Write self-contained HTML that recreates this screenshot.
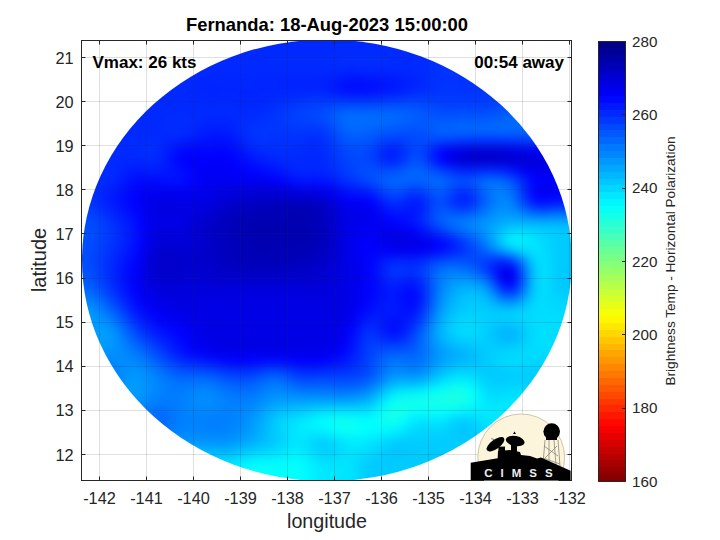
<!DOCTYPE html>
<html><head><meta charset="utf-8"><style>
html,body{margin:0;padding:0;background:#fff;width:720px;height:540px;overflow:hidden;position:relative;font-family:"Liberation Sans",sans-serif;color:#262626}
.t{position:absolute;white-space:nowrap;line-height:20px}
.xt{position:absolute;top:487.5px;width:60px;text-align:center;font-size:16.3px;line-height:20px;color:#262626}
.yt{position:absolute;left:0;width:73.5px;text-align:right;font-size:16.3px;line-height:20px;color:#262626}
.ct{position:absolute;left:632px;font-size:15.2px;line-height:20px;color:#262626}
</style></head><body>
<svg width="720" height="540" style="position:absolute;left:0;top:0">
<defs>
<clipPath id="ax"><rect x="81.5" y="40.5" width="490.0" height="440.0"/></clipPath>
<clipPath id="el"><ellipse cx="326.9" cy="260.3" rx="244.9" ry="220.9"/></clipPath>
<filter id="bl" x="-10%" y="-10%" width="120%" height="120%" color-interpolation-filters="sRGB"><feGaussianBlur stdDeviation="5"/></filter>
</defs>
<g clip-path="url(#ax)"><g clip-path="url(#el)"><g filter="url(#bl)"><rect x="58" y="16" width="11" height="11" fill="#0029ff"/><rect x="68" y="16" width="11" height="11" fill="#0029ff"/><rect x="78" y="16" width="11" height="11" fill="#0029ff"/><rect x="88" y="16" width="11" height="11" fill="#0029ff"/><rect x="98" y="16" width="11" height="11" fill="#0029ff"/><rect x="108" y="16" width="11" height="11" fill="#0029ff"/><rect x="118" y="16" width="11" height="11" fill="#0029ff"/><rect x="128" y="16" width="11" height="11" fill="#0029ff"/><rect x="138" y="16" width="11" height="11" fill="#0029ff"/><rect x="148" y="16" width="11" height="11" fill="#0029ff"/><rect x="158" y="16" width="11" height="11" fill="#0029ff"/><rect x="168" y="16" width="11" height="11" fill="#0029ff"/><rect x="178" y="16" width="11" height="11" fill="#0029ff"/><rect x="188" y="16" width="11" height="11" fill="#0029ff"/><rect x="198" y="16" width="11" height="11" fill="#0029ff"/><rect x="208" y="16" width="11" height="11" fill="#0029ff"/><rect x="218" y="16" width="11" height="11" fill="#0029ff"/><rect x="228" y="16" width="11" height="11" fill="#0029ff"/><rect x="238" y="16" width="11" height="11" fill="#0029ff"/><rect x="248" y="16" width="11" height="11" fill="#0029ff"/><rect x="258" y="16" width="11" height="11" fill="#0029ff"/><rect x="268" y="16" width="11" height="11" fill="#0029ff"/><rect x="278" y="16" width="11" height="11" fill="#0029ff"/><rect x="288" y="16" width="11" height="11" fill="#0029ff"/><rect x="298" y="16" width="11" height="11" fill="#0029ff"/><rect x="308" y="16" width="11" height="11" fill="#0029ff"/><rect x="318" y="16" width="11" height="11" fill="#0029ff"/><rect x="328" y="16" width="11" height="11" fill="#0029ff"/><rect x="338" y="16" width="11" height="11" fill="#0029ff"/><rect x="348" y="16" width="11" height="11" fill="#0029ff"/><rect x="358" y="16" width="11" height="11" fill="#0029ff"/><rect x="368" y="16" width="11" height="11" fill="#0029ff"/><rect x="378" y="16" width="11" height="11" fill="#0029ff"/><rect x="388" y="16" width="11" height="11" fill="#0029ff"/><rect x="398" y="16" width="11" height="11" fill="#0029ff"/><rect x="408" y="16" width="11" height="11" fill="#0029ff"/><rect x="418" y="16" width="11" height="11" fill="#0029ff"/><rect x="428" y="16" width="11" height="11" fill="#0029ff"/><rect x="438" y="16" width="11" height="11" fill="#0029ff"/><rect x="448" y="16" width="11" height="11" fill="#0029ff"/><rect x="458" y="16" width="11" height="11" fill="#0029ff"/><rect x="468" y="16" width="11" height="11" fill="#0029ff"/><rect x="478" y="16" width="11" height="11" fill="#0029ff"/><rect x="488" y="16" width="11" height="11" fill="#0029ff"/><rect x="498" y="16" width="11" height="11" fill="#0029ff"/><rect x="508" y="16" width="11" height="11" fill="#0029ff"/><rect x="518" y="16" width="11" height="11" fill="#0029ff"/><rect x="528" y="16" width="11" height="11" fill="#0029ff"/><rect x="538" y="16" width="11" height="11" fill="#0029ff"/><rect x="548" y="16" width="11" height="11" fill="#0029ff"/><rect x="558" y="16" width="11" height="11" fill="#0029ff"/><rect x="568" y="16" width="11" height="11" fill="#0029ff"/><rect x="578" y="16" width="11" height="11" fill="#0029ff"/><rect x="588" y="16" width="11" height="11" fill="#0029ff"/><rect x="58" y="26" width="11" height="11" fill="#0029ff"/><rect x="68" y="26" width="11" height="11" fill="#0029ff"/><rect x="78" y="26" width="11" height="11" fill="#0029ff"/><rect x="88" y="26" width="11" height="11" fill="#0029ff"/><rect x="98" y="26" width="11" height="11" fill="#0029ff"/><rect x="108" y="26" width="11" height="11" fill="#0029ff"/><rect x="118" y="26" width="11" height="11" fill="#0029ff"/><rect x="128" y="26" width="11" height="11" fill="#0029ff"/><rect x="138" y="26" width="11" height="11" fill="#0029ff"/><rect x="148" y="26" width="11" height="11" fill="#0029ff"/><rect x="158" y="26" width="11" height="11" fill="#0029ff"/><rect x="168" y="26" width="11" height="11" fill="#0029ff"/><rect x="178" y="26" width="11" height="11" fill="#0029ff"/><rect x="188" y="26" width="11" height="11" fill="#0029ff"/><rect x="198" y="26" width="11" height="11" fill="#0029ff"/><rect x="208" y="26" width="11" height="11" fill="#0029ff"/><rect x="218" y="26" width="11" height="11" fill="#0029ff"/><rect x="228" y="26" width="11" height="11" fill="#0029ff"/><rect x="238" y="26" width="11" height="11" fill="#0029ff"/><rect x="248" y="26" width="11" height="11" fill="#0029ff"/><rect x="258" y="26" width="11" height="11" fill="#0029ff"/><rect x="268" y="26" width="11" height="11" fill="#0029ff"/><rect x="278" y="26" width="11" height="11" fill="#0029ff"/><rect x="288" y="26" width="11" height="11" fill="#0029ff"/><rect x="298" y="26" width="11" height="11" fill="#0029ff"/><rect x="308" y="26" width="11" height="11" fill="#0029ff"/><rect x="318" y="26" width="11" height="11" fill="#0029ff"/><rect x="328" y="26" width="11" height="11" fill="#0029ff"/><rect x="338" y="26" width="11" height="11" fill="#0029ff"/><rect x="348" y="26" width="11" height="11" fill="#0028ff"/><rect x="358" y="26" width="11" height="11" fill="#0028ff"/><rect x="368" y="26" width="11" height="11" fill="#0028ff"/><rect x="378" y="26" width="11" height="11" fill="#0029ff"/><rect x="388" y="26" width="11" height="11" fill="#0029ff"/><rect x="398" y="26" width="11" height="11" fill="#0029ff"/><rect x="408" y="26" width="11" height="11" fill="#0029ff"/><rect x="418" y="26" width="11" height="11" fill="#0029ff"/><rect x="428" y="26" width="11" height="11" fill="#0028ff"/><rect x="438" y="26" width="11" height="11" fill="#0028ff"/><rect x="448" y="26" width="11" height="11" fill="#0028ff"/><rect x="458" y="26" width="11" height="11" fill="#0028ff"/><rect x="468" y="26" width="11" height="11" fill="#0028ff"/><rect x="478" y="26" width="11" height="11" fill="#0028ff"/><rect x="488" y="26" width="11" height="11" fill="#0028ff"/><rect x="498" y="26" width="11" height="11" fill="#0028ff"/><rect x="508" y="26" width="11" height="11" fill="#0028ff"/><rect x="518" y="26" width="11" height="11" fill="#0028ff"/><rect x="528" y="26" width="11" height="11" fill="#0028ff"/><rect x="538" y="26" width="11" height="11" fill="#0028ff"/><rect x="548" y="26" width="11" height="11" fill="#0028ff"/><rect x="558" y="26" width="11" height="11" fill="#0028ff"/><rect x="568" y="26" width="11" height="11" fill="#0028ff"/><rect x="578" y="26" width="11" height="11" fill="#0028ff"/><rect x="588" y="26" width="11" height="11" fill="#0028ff"/><rect x="58" y="36" width="11" height="11" fill="#0029ff"/><rect x="68" y="36" width="11" height="11" fill="#0029ff"/><rect x="78" y="36" width="11" height="11" fill="#0029ff"/><rect x="88" y="36" width="11" height="11" fill="#0029ff"/><rect x="98" y="36" width="11" height="11" fill="#0029ff"/><rect x="108" y="36" width="11" height="11" fill="#0029ff"/><rect x="118" y="36" width="11" height="11" fill="#0029ff"/><rect x="128" y="36" width="11" height="11" fill="#0029ff"/><rect x="138" y="36" width="11" height="11" fill="#0029ff"/><rect x="148" y="36" width="11" height="11" fill="#0029ff"/><rect x="158" y="36" width="11" height="11" fill="#0029ff"/><rect x="168" y="36" width="11" height="11" fill="#0029ff"/><rect x="178" y="36" width="11" height="11" fill="#0029ff"/><rect x="188" y="36" width="11" height="11" fill="#0029ff"/><rect x="198" y="36" width="11" height="11" fill="#0029ff"/><rect x="208" y="36" width="11" height="11" fill="#0029ff"/><rect x="218" y="36" width="11" height="11" fill="#0029ff"/><rect x="228" y="36" width="11" height="11" fill="#0029ff"/><rect x="238" y="36" width="11" height="11" fill="#0029ff"/><rect x="248" y="36" width="11" height="11" fill="#0029ff"/><rect x="258" y="36" width="11" height="11" fill="#0029ff"/><rect x="268" y="36" width="11" height="11" fill="#0029ff"/><rect x="278" y="36" width="11" height="11" fill="#0029ff"/><rect x="288" y="36" width="11" height="11" fill="#0029ff"/><rect x="298" y="36" width="11" height="11" fill="#0029ff"/><rect x="308" y="36" width="11" height="11" fill="#0029ff"/><rect x="318" y="36" width="11" height="11" fill="#0029ff"/><rect x="328" y="36" width="11" height="11" fill="#0028ff"/><rect x="338" y="36" width="11" height="11" fill="#0028ff"/><rect x="348" y="36" width="11" height="11" fill="#0028ff"/><rect x="358" y="36" width="11" height="11" fill="#0028ff"/><rect x="368" y="36" width="11" height="11" fill="#0028ff"/><rect x="378" y="36" width="11" height="11" fill="#0028ff"/><rect x="388" y="36" width="11" height="11" fill="#0028ff"/><rect x="398" y="36" width="11" height="11" fill="#0029ff"/><rect x="408" y="36" width="11" height="11" fill="#0029ff"/><rect x="418" y="36" width="11" height="11" fill="#0028ff"/><rect x="428" y="36" width="11" height="11" fill="#0028ff"/><rect x="438" y="36" width="11" height="11" fill="#0028ff"/><rect x="448" y="36" width="11" height="11" fill="#0028ff"/><rect x="458" y="36" width="11" height="11" fill="#0028ff"/><rect x="468" y="36" width="11" height="11" fill="#0028ff"/><rect x="478" y="36" width="11" height="11" fill="#0028ff"/><rect x="488" y="36" width="11" height="11" fill="#0028ff"/><rect x="498" y="36" width="11" height="11" fill="#0028ff"/><rect x="508" y="36" width="11" height="11" fill="#0028ff"/><rect x="518" y="36" width="11" height="11" fill="#0028ff"/><rect x="528" y="36" width="11" height="11" fill="#0028ff"/><rect x="538" y="36" width="11" height="11" fill="#0028ff"/><rect x="548" y="36" width="11" height="11" fill="#0028ff"/><rect x="558" y="36" width="11" height="11" fill="#0028ff"/><rect x="568" y="36" width="11" height="11" fill="#0028ff"/><rect x="578" y="36" width="11" height="11" fill="#0028ff"/><rect x="588" y="36" width="11" height="11" fill="#0028ff"/><rect x="58" y="46" width="11" height="11" fill="#0029ff"/><rect x="68" y="46" width="11" height="11" fill="#0029ff"/><rect x="78" y="46" width="11" height="11" fill="#0029ff"/><rect x="88" y="46" width="11" height="11" fill="#0029ff"/><rect x="98" y="46" width="11" height="11" fill="#0029ff"/><rect x="108" y="46" width="11" height="11" fill="#0029ff"/><rect x="118" y="46" width="11" height="11" fill="#0029ff"/><rect x="128" y="46" width="11" height="11" fill="#0029ff"/><rect x="138" y="46" width="11" height="11" fill="#0029ff"/><rect x="148" y="46" width="11" height="11" fill="#0029ff"/><rect x="158" y="46" width="11" height="11" fill="#0029ff"/><rect x="168" y="46" width="11" height="11" fill="#0029ff"/><rect x="178" y="46" width="11" height="11" fill="#0029ff"/><rect x="188" y="46" width="11" height="11" fill="#0029ff"/><rect x="198" y="46" width="11" height="11" fill="#0029ff"/><rect x="208" y="46" width="11" height="11" fill="#0029ff"/><rect x="218" y="46" width="11" height="11" fill="#0029ff"/><rect x="228" y="46" width="11" height="11" fill="#0029ff"/><rect x="238" y="46" width="11" height="11" fill="#0029ff"/><rect x="248" y="46" width="11" height="11" fill="#0029ff"/><rect x="258" y="46" width="11" height="11" fill="#0029ff"/><rect x="268" y="46" width="11" height="11" fill="#0029ff"/><rect x="278" y="46" width="11" height="11" fill="#0029ff"/><rect x="288" y="46" width="11" height="11" fill="#0029ff"/><rect x="298" y="46" width="11" height="11" fill="#0029ff"/><rect x="308" y="46" width="11" height="11" fill="#0029ff"/><rect x="318" y="46" width="11" height="11" fill="#0029ff"/><rect x="328" y="46" width="11" height="11" fill="#0029ff"/><rect x="338" y="46" width="11" height="11" fill="#002aff"/><rect x="348" y="46" width="11" height="11" fill="#002aff"/><rect x="358" y="46" width="11" height="11" fill="#002aff"/><rect x="368" y="46" width="11" height="11" fill="#002aff"/><rect x="378" y="46" width="11" height="11" fill="#002aff"/><rect x="388" y="46" width="11" height="11" fill="#002aff"/><rect x="398" y="46" width="11" height="11" fill="#0029ff"/><rect x="408" y="46" width="11" height="11" fill="#0029ff"/><rect x="418" y="46" width="11" height="11" fill="#0029ff"/><rect x="428" y="46" width="11" height="11" fill="#002aff"/><rect x="438" y="46" width="11" height="11" fill="#002bff"/><rect x="448" y="46" width="11" height="11" fill="#002bff"/><rect x="458" y="46" width="11" height="11" fill="#002aff"/><rect x="468" y="46" width="11" height="11" fill="#002aff"/><rect x="478" y="46" width="11" height="11" fill="#002aff"/><rect x="488" y="46" width="11" height="11" fill="#002aff"/><rect x="498" y="46" width="11" height="11" fill="#002bff"/><rect x="508" y="46" width="11" height="11" fill="#002bff"/><rect x="518" y="46" width="11" height="11" fill="#002bff"/><rect x="528" y="46" width="11" height="11" fill="#002bff"/><rect x="538" y="46" width="11" height="11" fill="#002bff"/><rect x="548" y="46" width="11" height="11" fill="#002bff"/><rect x="558" y="46" width="11" height="11" fill="#002bff"/><rect x="568" y="46" width="11" height="11" fill="#002bff"/><rect x="578" y="46" width="11" height="11" fill="#002bff"/><rect x="588" y="46" width="11" height="11" fill="#002bff"/><rect x="58" y="56" width="11" height="11" fill="#0029ff"/><rect x="68" y="56" width="11" height="11" fill="#0029ff"/><rect x="78" y="56" width="11" height="11" fill="#0029ff"/><rect x="88" y="56" width="11" height="11" fill="#0029ff"/><rect x="98" y="56" width="11" height="11" fill="#0029ff"/><rect x="108" y="56" width="11" height="11" fill="#0029ff"/><rect x="118" y="56" width="11" height="11" fill="#0029ff"/><rect x="128" y="56" width="11" height="11" fill="#0029ff"/><rect x="138" y="56" width="11" height="11" fill="#0029ff"/><rect x="148" y="56" width="11" height="11" fill="#0029ff"/><rect x="158" y="56" width="11" height="11" fill="#0029ff"/><rect x="168" y="56" width="11" height="11" fill="#0029ff"/><rect x="178" y="56" width="11" height="11" fill="#0029ff"/><rect x="188" y="56" width="11" height="11" fill="#0029ff"/><rect x="198" y="56" width="11" height="11" fill="#0029ff"/><rect x="208" y="56" width="11" height="11" fill="#002aff"/><rect x="218" y="56" width="11" height="11" fill="#0029ff"/><rect x="228" y="56" width="11" height="11" fill="#0029ff"/><rect x="238" y="56" width="11" height="11" fill="#0029ff"/><rect x="248" y="56" width="11" height="11" fill="#0029ff"/><rect x="258" y="56" width="11" height="11" fill="#0029ff"/><rect x="268" y="56" width="11" height="11" fill="#002aff"/><rect x="278" y="56" width="11" height="11" fill="#002aff"/><rect x="288" y="56" width="11" height="11" fill="#002aff"/><rect x="298" y="56" width="11" height="11" fill="#002aff"/><rect x="308" y="56" width="11" height="11" fill="#002aff"/><rect x="318" y="56" width="11" height="11" fill="#002aff"/><rect x="328" y="56" width="11" height="11" fill="#002bff"/><rect x="338" y="56" width="11" height="11" fill="#002dff"/><rect x="348" y="56" width="11" height="11" fill="#002dff"/><rect x="358" y="56" width="11" height="11" fill="#002dff"/><rect x="368" y="56" width="11" height="11" fill="#002dff"/><rect x="378" y="56" width="11" height="11" fill="#002dff"/><rect x="388" y="56" width="11" height="11" fill="#002cff"/><rect x="398" y="56" width="11" height="11" fill="#002aff"/><rect x="408" y="56" width="11" height="11" fill="#0029ff"/><rect x="418" y="56" width="11" height="11" fill="#002bff"/><rect x="428" y="56" width="11" height="11" fill="#002fff"/><rect x="438" y="56" width="11" height="11" fill="#0031ff"/><rect x="448" y="56" width="11" height="11" fill="#0031ff"/><rect x="458" y="56" width="11" height="11" fill="#0030ff"/><rect x="468" y="56" width="11" height="11" fill="#0030ff"/><rect x="478" y="56" width="11" height="11" fill="#0030ff"/><rect x="488" y="56" width="11" height="11" fill="#0030ff"/><rect x="498" y="56" width="11" height="11" fill="#0031ff"/><rect x="508" y="56" width="11" height="11" fill="#0031ff"/><rect x="518" y="56" width="11" height="11" fill="#0031ff"/><rect x="528" y="56" width="11" height="11" fill="#0031ff"/><rect x="538" y="56" width="11" height="11" fill="#0031ff"/><rect x="548" y="56" width="11" height="11" fill="#0031ff"/><rect x="558" y="56" width="11" height="11" fill="#0031ff"/><rect x="568" y="56" width="11" height="11" fill="#0031ff"/><rect x="578" y="56" width="11" height="11" fill="#0031ff"/><rect x="588" y="56" width="11" height="11" fill="#0031ff"/><rect x="58" y="66" width="11" height="11" fill="#0029ff"/><rect x="68" y="66" width="11" height="11" fill="#0029ff"/><rect x="78" y="66" width="11" height="11" fill="#0029ff"/><rect x="88" y="66" width="11" height="11" fill="#0029ff"/><rect x="98" y="66" width="11" height="11" fill="#0029ff"/><rect x="108" y="66" width="11" height="11" fill="#0029ff"/><rect x="118" y="66" width="11" height="11" fill="#0029ff"/><rect x="128" y="66" width="11" height="11" fill="#0029ff"/><rect x="138" y="66" width="11" height="11" fill="#0029ff"/><rect x="148" y="66" width="11" height="11" fill="#0029ff"/><rect x="158" y="66" width="11" height="11" fill="#0029ff"/><rect x="168" y="66" width="11" height="11" fill="#0029ff"/><rect x="178" y="66" width="11" height="11" fill="#0029ff"/><rect x="188" y="66" width="11" height="11" fill="#0029ff"/><rect x="198" y="66" width="11" height="11" fill="#0028ff"/><rect x="208" y="66" width="11" height="11" fill="#0028ff"/><rect x="218" y="66" width="11" height="11" fill="#0028ff"/><rect x="228" y="66" width="11" height="11" fill="#0028ff"/><rect x="238" y="66" width="11" height="11" fill="#0028ff"/><rect x="248" y="66" width="11" height="11" fill="#0028ff"/><rect x="258" y="66" width="11" height="11" fill="#0028ff"/><rect x="268" y="66" width="11" height="11" fill="#0028ff"/><rect x="278" y="66" width="11" height="11" fill="#0028ff"/><rect x="288" y="66" width="11" height="11" fill="#0028ff"/><rect x="298" y="66" width="11" height="11" fill="#0028ff"/><rect x="308" y="66" width="11" height="11" fill="#0028ff"/><rect x="318" y="66" width="11" height="11" fill="#0028ff"/><rect x="328" y="66" width="11" height="11" fill="#0027ff"/><rect x="338" y="66" width="11" height="11" fill="#0026ff"/><rect x="348" y="66" width="11" height="11" fill="#0025ff"/><rect x="358" y="66" width="11" height="11" fill="#0026ff"/><rect x="368" y="66" width="11" height="11" fill="#0026ff"/><rect x="378" y="66" width="11" height="11" fill="#0026ff"/><rect x="388" y="66" width="11" height="11" fill="#0027ff"/><rect x="398" y="66" width="11" height="11" fill="#0027ff"/><rect x="408" y="66" width="11" height="11" fill="#0027ff"/><rect x="418" y="66" width="11" height="11" fill="#002bff"/><rect x="428" y="66" width="11" height="11" fill="#0030ff"/><rect x="438" y="66" width="11" height="11" fill="#0034ff"/><rect x="448" y="66" width="11" height="11" fill="#0034ff"/><rect x="458" y="66" width="11" height="11" fill="#0033ff"/><rect x="468" y="66" width="11" height="11" fill="#0033ff"/><rect x="478" y="66" width="11" height="11" fill="#0033ff"/><rect x="488" y="66" width="11" height="11" fill="#0033ff"/><rect x="498" y="66" width="11" height="11" fill="#0033ff"/><rect x="508" y="66" width="11" height="11" fill="#0033ff"/><rect x="518" y="66" width="11" height="11" fill="#0033ff"/><rect x="528" y="66" width="11" height="11" fill="#0033ff"/><rect x="538" y="66" width="11" height="11" fill="#0033ff"/><rect x="548" y="66" width="11" height="11" fill="#0033ff"/><rect x="558" y="66" width="11" height="11" fill="#0033ff"/><rect x="568" y="66" width="11" height="11" fill="#0033ff"/><rect x="578" y="66" width="11" height="11" fill="#0033ff"/><rect x="588" y="66" width="11" height="11" fill="#0033ff"/><rect x="58" y="76" width="11" height="11" fill="#0029ff"/><rect x="68" y="76" width="11" height="11" fill="#0029ff"/><rect x="78" y="76" width="11" height="11" fill="#0029ff"/><rect x="88" y="76" width="11" height="11" fill="#0029ff"/><rect x="98" y="76" width="11" height="11" fill="#0029ff"/><rect x="108" y="76" width="11" height="11" fill="#0029ff"/><rect x="118" y="76" width="11" height="11" fill="#0029ff"/><rect x="128" y="76" width="11" height="11" fill="#0029ff"/><rect x="138" y="76" width="11" height="11" fill="#0029ff"/><rect x="148" y="76" width="11" height="11" fill="#0029ff"/><rect x="158" y="76" width="11" height="11" fill="#0029ff"/><rect x="168" y="76" width="11" height="11" fill="#0029ff"/><rect x="178" y="76" width="11" height="11" fill="#0029ff"/><rect x="188" y="76" width="11" height="11" fill="#0027ff"/><rect x="198" y="76" width="11" height="11" fill="#0025ff"/><rect x="208" y="76" width="11" height="11" fill="#0025ff"/><rect x="218" y="76" width="11" height="11" fill="#0025ff"/><rect x="228" y="76" width="11" height="11" fill="#0025ff"/><rect x="238" y="76" width="11" height="11" fill="#0026ff"/><rect x="248" y="76" width="11" height="11" fill="#0026ff"/><rect x="258" y="76" width="11" height="11" fill="#0025ff"/><rect x="268" y="76" width="11" height="11" fill="#0025ff"/><rect x="278" y="76" width="11" height="11" fill="#0024ff"/><rect x="288" y="76" width="11" height="11" fill="#0023ff"/><rect x="298" y="76" width="11" height="11" fill="#0023ff"/><rect x="308" y="76" width="11" height="11" fill="#0023ff"/><rect x="318" y="76" width="11" height="11" fill="#0021ff"/><rect x="328" y="76" width="11" height="11" fill="#001bff"/><rect x="338" y="76" width="11" height="11" fill="#0013ff"/><rect x="348" y="76" width="11" height="11" fill="#000fff"/><rect x="358" y="76" width="11" height="11" fill="#0010ff"/><rect x="368" y="76" width="11" height="11" fill="#0012ff"/><rect x="378" y="76" width="11" height="11" fill="#0015ff"/><rect x="388" y="76" width="11" height="11" fill="#0018ff"/><rect x="398" y="76" width="11" height="11" fill="#001cff"/><rect x="408" y="76" width="11" height="11" fill="#0021ff"/><rect x="418" y="76" width="11" height="11" fill="#0028ff"/><rect x="428" y="76" width="11" height="11" fill="#002fff"/><rect x="438" y="76" width="11" height="11" fill="#0033ff"/><rect x="448" y="76" width="11" height="11" fill="#0033ff"/><rect x="458" y="76" width="11" height="11" fill="#0032ff"/><rect x="468" y="76" width="11" height="11" fill="#0032ff"/><rect x="478" y="76" width="11" height="11" fill="#0032ff"/><rect x="488" y="76" width="11" height="11" fill="#0032ff"/><rect x="498" y="76" width="11" height="11" fill="#0031ff"/><rect x="508" y="76" width="11" height="11" fill="#0030ff"/><rect x="518" y="76" width="11" height="11" fill="#0030ff"/><rect x="528" y="76" width="11" height="11" fill="#0030ff"/><rect x="538" y="76" width="11" height="11" fill="#0030ff"/><rect x="548" y="76" width="11" height="11" fill="#0030ff"/><rect x="558" y="76" width="11" height="11" fill="#0030ff"/><rect x="568" y="76" width="11" height="11" fill="#0030ff"/><rect x="578" y="76" width="11" height="11" fill="#0030ff"/><rect x="588" y="76" width="11" height="11" fill="#0030ff"/><rect x="58" y="86" width="11" height="11" fill="#0029ff"/><rect x="68" y="86" width="11" height="11" fill="#0029ff"/><rect x="78" y="86" width="11" height="11" fill="#0029ff"/><rect x="88" y="86" width="11" height="11" fill="#0029ff"/><rect x="98" y="86" width="11" height="11" fill="#0029ff"/><rect x="108" y="86" width="11" height="11" fill="#0029ff"/><rect x="118" y="86" width="11" height="11" fill="#0029ff"/><rect x="128" y="86" width="11" height="11" fill="#0029ff"/><rect x="138" y="86" width="11" height="11" fill="#0029ff"/><rect x="148" y="86" width="11" height="11" fill="#0029ff"/><rect x="158" y="86" width="11" height="11" fill="#0029ff"/><rect x="168" y="86" width="11" height="11" fill="#0029ff"/><rect x="178" y="86" width="11" height="11" fill="#0029ff"/><rect x="188" y="86" width="11" height="11" fill="#0026ff"/><rect x="198" y="86" width="11" height="11" fill="#0024ff"/><rect x="208" y="86" width="11" height="11" fill="#0023ff"/><rect x="218" y="86" width="11" height="11" fill="#0024ff"/><rect x="228" y="86" width="11" height="11" fill="#0024ff"/><rect x="238" y="86" width="11" height="11" fill="#0024ff"/><rect x="248" y="86" width="11" height="11" fill="#0024ff"/><rect x="258" y="86" width="11" height="11" fill="#0024ff"/><rect x="268" y="86" width="11" height="11" fill="#0024ff"/><rect x="278" y="86" width="11" height="11" fill="#0024ff"/><rect x="288" y="86" width="11" height="11" fill="#0024ff"/><rect x="298" y="86" width="11" height="11" fill="#0024ff"/><rect x="308" y="86" width="11" height="11" fill="#0026ff"/><rect x="318" y="86" width="11" height="11" fill="#0024ff"/><rect x="328" y="86" width="11" height="11" fill="#001cff"/><rect x="338" y="86" width="11" height="11" fill="#0012ff"/><rect x="348" y="86" width="11" height="11" fill="#000eff"/><rect x="358" y="86" width="11" height="11" fill="#000eff"/><rect x="368" y="86" width="11" height="11" fill="#0011ff"/><rect x="378" y="86" width="11" height="11" fill="#0015ff"/><rect x="388" y="86" width="11" height="11" fill="#001aff"/><rect x="398" y="86" width="11" height="11" fill="#0020ff"/><rect x="408" y="86" width="11" height="11" fill="#0027ff"/><rect x="418" y="86" width="11" height="11" fill="#002dff"/><rect x="428" y="86" width="11" height="11" fill="#0031ff"/><rect x="438" y="86" width="11" height="11" fill="#0034ff"/><rect x="448" y="86" width="11" height="11" fill="#0034ff"/><rect x="458" y="86" width="11" height="11" fill="#0033ff"/><rect x="468" y="86" width="11" height="11" fill="#0033ff"/><rect x="478" y="86" width="11" height="11" fill="#0033ff"/><rect x="488" y="86" width="11" height="11" fill="#0033ff"/><rect x="498" y="86" width="11" height="11" fill="#0033ff"/><rect x="508" y="86" width="11" height="11" fill="#0033ff"/><rect x="518" y="86" width="11" height="11" fill="#0033ff"/><rect x="528" y="86" width="11" height="11" fill="#0033ff"/><rect x="538" y="86" width="11" height="11" fill="#0033ff"/><rect x="548" y="86" width="11" height="11" fill="#0033ff"/><rect x="558" y="86" width="11" height="11" fill="#0033ff"/><rect x="568" y="86" width="11" height="11" fill="#0033ff"/><rect x="578" y="86" width="11" height="11" fill="#0033ff"/><rect x="588" y="86" width="11" height="11" fill="#0033ff"/><rect x="58" y="96" width="11" height="11" fill="#0029ff"/><rect x="68" y="96" width="11" height="11" fill="#0029ff"/><rect x="78" y="96" width="11" height="11" fill="#0029ff"/><rect x="88" y="96" width="11" height="11" fill="#0029ff"/><rect x="98" y="96" width="11" height="11" fill="#0029ff"/><rect x="108" y="96" width="11" height="11" fill="#0029ff"/><rect x="118" y="96" width="11" height="11" fill="#0029ff"/><rect x="128" y="96" width="11" height="11" fill="#0029ff"/><rect x="138" y="96" width="11" height="11" fill="#0029ff"/><rect x="148" y="96" width="11" height="11" fill="#0029ff"/><rect x="158" y="96" width="11" height="11" fill="#0029ff"/><rect x="168" y="96" width="11" height="11" fill="#0029ff"/><rect x="178" y="96" width="11" height="11" fill="#0028ff"/><rect x="188" y="96" width="11" height="11" fill="#0027ff"/><rect x="198" y="96" width="11" height="11" fill="#0027ff"/><rect x="208" y="96" width="11" height="11" fill="#0026ff"/><rect x="218" y="96" width="11" height="11" fill="#0027ff"/><rect x="228" y="96" width="11" height="11" fill="#0026ff"/><rect x="238" y="96" width="11" height="11" fill="#0025ff"/><rect x="248" y="96" width="11" height="11" fill="#0025ff"/><rect x="258" y="96" width="11" height="11" fill="#0026ff"/><rect x="268" y="96" width="11" height="11" fill="#0029ff"/><rect x="278" y="96" width="11" height="11" fill="#002dff"/><rect x="288" y="96" width="11" height="11" fill="#0030ff"/><rect x="298" y="96" width="11" height="11" fill="#0034ff"/><rect x="308" y="96" width="11" height="11" fill="#0037ff"/><rect x="318" y="96" width="11" height="11" fill="#0038ff"/><rect x="328" y="96" width="11" height="11" fill="#0037ff"/><rect x="338" y="96" width="11" height="11" fill="#0036ff"/><rect x="348" y="96" width="11" height="11" fill="#0035ff"/><rect x="358" y="96" width="11" height="11" fill="#0035ff"/><rect x="368" y="96" width="11" height="11" fill="#0036ff"/><rect x="378" y="96" width="11" height="11" fill="#0039ff"/><rect x="388" y="96" width="11" height="11" fill="#003cff"/><rect x="398" y="96" width="11" height="11" fill="#0040ff"/><rect x="408" y="96" width="11" height="11" fill="#0041ff"/><rect x="418" y="96" width="11" height="11" fill="#0041ff"/><rect x="428" y="96" width="11" height="11" fill="#003eff"/><rect x="438" y="96" width="11" height="11" fill="#003cff"/><rect x="448" y="96" width="11" height="11" fill="#003bff"/><rect x="458" y="96" width="11" height="11" fill="#003bff"/><rect x="468" y="96" width="11" height="11" fill="#003bff"/><rect x="478" y="96" width="11" height="11" fill="#003aff"/><rect x="488" y="96" width="11" height="11" fill="#003dff"/><rect x="498" y="96" width="11" height="11" fill="#0041ff"/><rect x="508" y="96" width="11" height="11" fill="#0044ff"/><rect x="518" y="96" width="11" height="11" fill="#0044ff"/><rect x="528" y="96" width="11" height="11" fill="#0044ff"/><rect x="538" y="96" width="11" height="11" fill="#0044ff"/><rect x="548" y="96" width="11" height="11" fill="#0045ff"/><rect x="558" y="96" width="11" height="11" fill="#0046ff"/><rect x="568" y="96" width="11" height="11" fill="#0046ff"/><rect x="578" y="96" width="11" height="11" fill="#0045ff"/><rect x="588" y="96" width="11" height="11" fill="#0045ff"/><rect x="58" y="106" width="11" height="11" fill="#0029ff"/><rect x="68" y="106" width="11" height="11" fill="#0029ff"/><rect x="78" y="106" width="11" height="11" fill="#0029ff"/><rect x="88" y="106" width="11" height="11" fill="#0029ff"/><rect x="98" y="106" width="11" height="11" fill="#0029ff"/><rect x="108" y="106" width="11" height="11" fill="#0029ff"/><rect x="118" y="106" width="11" height="11" fill="#0029ff"/><rect x="128" y="106" width="11" height="11" fill="#0029ff"/><rect x="138" y="106" width="11" height="11" fill="#0029ff"/><rect x="148" y="106" width="11" height="11" fill="#0029ff"/><rect x="158" y="106" width="11" height="11" fill="#0029ff"/><rect x="168" y="106" width="11" height="11" fill="#0029ff"/><rect x="178" y="106" width="11" height="11" fill="#0029ff"/><rect x="188" y="106" width="11" height="11" fill="#0029ff"/><rect x="198" y="106" width="11" height="11" fill="#0029ff"/><rect x="208" y="106" width="11" height="11" fill="#0029ff"/><rect x="218" y="106" width="11" height="11" fill="#0029ff"/><rect x="228" y="106" width="11" height="11" fill="#0029ff"/><rect x="238" y="106" width="11" height="11" fill="#0028ff"/><rect x="248" y="106" width="11" height="11" fill="#0028ff"/><rect x="258" y="106" width="11" height="11" fill="#002bff"/><rect x="268" y="106" width="11" height="11" fill="#0031ff"/><rect x="278" y="106" width="11" height="11" fill="#0037ff"/><rect x="288" y="106" width="11" height="11" fill="#003eff"/><rect x="298" y="106" width="11" height="11" fill="#0043ff"/><rect x="308" y="106" width="11" height="11" fill="#0046ff"/><rect x="318" y="106" width="11" height="11" fill="#004cff"/><rect x="328" y="106" width="11" height="11" fill="#0055ff"/><rect x="338" y="106" width="11" height="11" fill="#0060ff"/><rect x="348" y="106" width="11" height="11" fill="#0064ff"/><rect x="358" y="106" width="11" height="11" fill="#0062ff"/><rect x="368" y="106" width="11" height="11" fill="#0062ff"/><rect x="378" y="106" width="11" height="11" fill="#0063ff"/><rect x="388" y="106" width="11" height="11" fill="#0063ff"/><rect x="398" y="106" width="11" height="11" fill="#0061ff"/><rect x="408" y="106" width="11" height="11" fill="#005cff"/><rect x="418" y="106" width="11" height="11" fill="#0056ff"/><rect x="428" y="106" width="11" height="11" fill="#004eff"/><rect x="438" y="106" width="11" height="11" fill="#0049ff"/><rect x="448" y="106" width="11" height="11" fill="#0049ff"/><rect x="458" y="106" width="11" height="11" fill="#004aff"/><rect x="468" y="106" width="11" height="11" fill="#0049ff"/><rect x="478" y="106" width="11" height="11" fill="#0048ff"/><rect x="488" y="106" width="11" height="11" fill="#004cff"/><rect x="498" y="106" width="11" height="11" fill="#0054ff"/><rect x="508" y="106" width="11" height="11" fill="#0059ff"/><rect x="518" y="106" width="11" height="11" fill="#005aff"/><rect x="528" y="106" width="11" height="11" fill="#0059ff"/><rect x="538" y="106" width="11" height="11" fill="#0059ff"/><rect x="548" y="106" width="11" height="11" fill="#005aff"/><rect x="558" y="106" width="11" height="11" fill="#005aff"/><rect x="568" y="106" width="11" height="11" fill="#005aff"/><rect x="578" y="106" width="11" height="11" fill="#005aff"/><rect x="588" y="106" width="11" height="11" fill="#005aff"/><rect x="58" y="116" width="11" height="11" fill="#0029ff"/><rect x="68" y="116" width="11" height="11" fill="#0029ff"/><rect x="78" y="116" width="11" height="11" fill="#0029ff"/><rect x="88" y="116" width="11" height="11" fill="#0029ff"/><rect x="98" y="116" width="11" height="11" fill="#0029ff"/><rect x="108" y="116" width="11" height="11" fill="#0029ff"/><rect x="118" y="116" width="11" height="11" fill="#0029ff"/><rect x="128" y="116" width="11" height="11" fill="#0029ff"/><rect x="138" y="116" width="11" height="11" fill="#0028ff"/><rect x="148" y="116" width="11" height="11" fill="#0028ff"/><rect x="158" y="116" width="11" height="11" fill="#0029ff"/><rect x="168" y="116" width="11" height="11" fill="#002bff"/><rect x="178" y="116" width="11" height="11" fill="#002bff"/><rect x="188" y="116" width="11" height="11" fill="#0029ff"/><rect x="198" y="116" width="11" height="11" fill="#0026ff"/><rect x="208" y="116" width="11" height="11" fill="#0025ff"/><rect x="218" y="116" width="11" height="11" fill="#0025ff"/><rect x="228" y="116" width="11" height="11" fill="#0027ff"/><rect x="238" y="116" width="11" height="11" fill="#002bff"/><rect x="248" y="116" width="11" height="11" fill="#002eff"/><rect x="258" y="116" width="11" height="11" fill="#0031ff"/><rect x="268" y="116" width="11" height="11" fill="#0034ff"/><rect x="278" y="116" width="11" height="11" fill="#0039ff"/><rect x="288" y="116" width="11" height="11" fill="#003eff"/><rect x="298" y="116" width="11" height="11" fill="#0042ff"/><rect x="308" y="116" width="11" height="11" fill="#0043ff"/><rect x="318" y="116" width="11" height="11" fill="#0049ff"/><rect x="328" y="116" width="11" height="11" fill="#0058ff"/><rect x="338" y="116" width="11" height="11" fill="#006aff"/><rect x="348" y="116" width="11" height="11" fill="#0071ff"/><rect x="358" y="116" width="11" height="11" fill="#006fff"/><rect x="368" y="116" width="11" height="11" fill="#006dff"/><rect x="378" y="116" width="11" height="11" fill="#006cff"/><rect x="388" y="116" width="11" height="11" fill="#0069ff"/><rect x="398" y="116" width="11" height="11" fill="#0064ff"/><rect x="408" y="116" width="11" height="11" fill="#005eff"/><rect x="418" y="116" width="11" height="11" fill="#005bff"/><rect x="428" y="116" width="11" height="11" fill="#005aff"/><rect x="438" y="116" width="11" height="11" fill="#005bff"/><rect x="448" y="116" width="11" height="11" fill="#005dff"/><rect x="458" y="116" width="11" height="11" fill="#005eff"/><rect x="468" y="116" width="11" height="11" fill="#005eff"/><rect x="478" y="116" width="11" height="11" fill="#005eff"/><rect x="488" y="116" width="11" height="11" fill="#0061ff"/><rect x="498" y="116" width="11" height="11" fill="#0067ff"/><rect x="508" y="116" width="11" height="11" fill="#006aff"/><rect x="518" y="116" width="11" height="11" fill="#006aff"/><rect x="528" y="116" width="11" height="11" fill="#0068ff"/><rect x="538" y="116" width="11" height="11" fill="#0065ff"/><rect x="548" y="116" width="11" height="11" fill="#0062ff"/><rect x="558" y="116" width="11" height="11" fill="#0061ff"/><rect x="568" y="116" width="11" height="11" fill="#0061ff"/><rect x="578" y="116" width="11" height="11" fill="#0061ff"/><rect x="588" y="116" width="11" height="11" fill="#0061ff"/><rect x="58" y="126" width="11" height="11" fill="#0029ff"/><rect x="68" y="126" width="11" height="11" fill="#0029ff"/><rect x="78" y="126" width="11" height="11" fill="#0029ff"/><rect x="88" y="126" width="11" height="11" fill="#0029ff"/><rect x="98" y="126" width="11" height="11" fill="#0029ff"/><rect x="108" y="126" width="11" height="11" fill="#0029ff"/><rect x="118" y="126" width="11" height="11" fill="#0029ff"/><rect x="128" y="126" width="11" height="11" fill="#0029ff"/><rect x="138" y="126" width="11" height="11" fill="#0028ff"/><rect x="148" y="126" width="11" height="11" fill="#0028ff"/><rect x="158" y="126" width="11" height="11" fill="#0029ff"/><rect x="168" y="126" width="11" height="11" fill="#002cff"/><rect x="178" y="126" width="11" height="11" fill="#002cff"/><rect x="188" y="126" width="11" height="11" fill="#0026ff"/><rect x="198" y="126" width="11" height="11" fill="#001eff"/><rect x="208" y="126" width="11" height="11" fill="#001bff"/><rect x="218" y="126" width="11" height="11" fill="#001bff"/><rect x="228" y="126" width="11" height="11" fill="#0020ff"/><rect x="238" y="126" width="11" height="11" fill="#002cff"/><rect x="248" y="126" width="11" height="11" fill="#0034ff"/><rect x="258" y="126" width="11" height="11" fill="#0035ff"/><rect x="268" y="126" width="11" height="11" fill="#0034ff"/><rect x="278" y="126" width="11" height="11" fill="#0034ff"/><rect x="288" y="126" width="11" height="11" fill="#0036ff"/><rect x="298" y="126" width="11" height="11" fill="#0036ff"/><rect x="308" y="126" width="11" height="11" fill="#0033ff"/><rect x="318" y="126" width="11" height="11" fill="#0038ff"/><rect x="328" y="126" width="11" height="11" fill="#0049ff"/><rect x="338" y="126" width="11" height="11" fill="#005dff"/><rect x="348" y="126" width="11" height="11" fill="#0065ff"/><rect x="358" y="126" width="11" height="11" fill="#0064ff"/><rect x="368" y="126" width="11" height="11" fill="#0060ff"/><rect x="378" y="126" width="11" height="11" fill="#005bff"/><rect x="388" y="126" width="11" height="11" fill="#0056ff"/><rect x="398" y="126" width="11" height="11" fill="#0052ff"/><rect x="408" y="126" width="11" height="11" fill="#004fff"/><rect x="418" y="126" width="11" height="11" fill="#0053ff"/><rect x="428" y="126" width="11" height="11" fill="#005dff"/><rect x="438" y="126" width="11" height="11" fill="#0064ff"/><rect x="448" y="126" width="11" height="11" fill="#0066ff"/><rect x="458" y="126" width="11" height="11" fill="#0067ff"/><rect x="468" y="126" width="11" height="11" fill="#0067ff"/><rect x="478" y="126" width="11" height="11" fill="#0068ff"/><rect x="488" y="126" width="11" height="11" fill="#0068ff"/><rect x="498" y="126" width="11" height="11" fill="#0069ff"/><rect x="508" y="126" width="11" height="11" fill="#0069ff"/><rect x="518" y="126" width="11" height="11" fill="#0069ff"/><rect x="528" y="126" width="11" height="11" fill="#0067ff"/><rect x="538" y="126" width="11" height="11" fill="#0061ff"/><rect x="548" y="126" width="11" height="11" fill="#005aff"/><rect x="558" y="126" width="11" height="11" fill="#0056ff"/><rect x="568" y="126" width="11" height="11" fill="#0056ff"/><rect x="578" y="126" width="11" height="11" fill="#0057ff"/><rect x="588" y="126" width="11" height="11" fill="#0058ff"/><rect x="58" y="136" width="11" height="11" fill="#0029ff"/><rect x="68" y="136" width="11" height="11" fill="#0029ff"/><rect x="78" y="136" width="11" height="11" fill="#0029ff"/><rect x="88" y="136" width="11" height="11" fill="#0029ff"/><rect x="98" y="136" width="11" height="11" fill="#0029ff"/><rect x="108" y="136" width="11" height="11" fill="#0029ff"/><rect x="118" y="136" width="11" height="11" fill="#0029ff"/><rect x="128" y="136" width="11" height="11" fill="#002aff"/><rect x="138" y="136" width="11" height="11" fill="#002aff"/><rect x="148" y="136" width="11" height="11" fill="#002aff"/><rect x="158" y="136" width="11" height="11" fill="#0028ff"/><rect x="168" y="136" width="11" height="11" fill="#0023ff"/><rect x="178" y="136" width="11" height="11" fill="#001eff"/><rect x="188" y="136" width="11" height="11" fill="#0018ff"/><rect x="198" y="136" width="11" height="11" fill="#0013ff"/><rect x="208" y="136" width="11" height="11" fill="#0010ff"/><rect x="218" y="136" width="11" height="11" fill="#000fff"/><rect x="228" y="136" width="11" height="11" fill="#0016ff"/><rect x="238" y="136" width="11" height="11" fill="#0024ff"/><rect x="248" y="136" width="11" height="11" fill="#0030ff"/><rect x="258" y="136" width="11" height="11" fill="#0033ff"/><rect x="268" y="136" width="11" height="11" fill="#0032ff"/><rect x="278" y="136" width="11" height="11" fill="#0031ff"/><rect x="288" y="136" width="11" height="11" fill="#0030ff"/><rect x="298" y="136" width="11" height="11" fill="#002eff"/><rect x="308" y="136" width="11" height="11" fill="#002aff"/><rect x="318" y="136" width="11" height="11" fill="#002eff"/><rect x="328" y="136" width="11" height="11" fill="#003dff"/><rect x="338" y="136" width="11" height="11" fill="#0050ff"/><rect x="348" y="136" width="11" height="11" fill="#0058ff"/><rect x="358" y="136" width="11" height="11" fill="#0057ff"/><rect x="368" y="136" width="11" height="11" fill="#004fff"/><rect x="378" y="136" width="11" height="11" fill="#0041ff"/><rect x="388" y="136" width="11" height="11" fill="#0039ff"/><rect x="398" y="136" width="11" height="11" fill="#003dff"/><rect x="408" y="136" width="11" height="11" fill="#0047ff"/><rect x="418" y="136" width="11" height="11" fill="#004aff"/><rect x="428" y="136" width="11" height="11" fill="#0047ff"/><rect x="438" y="136" width="11" height="11" fill="#0041ff"/><rect x="448" y="136" width="11" height="11" fill="#003bff"/><rect x="458" y="136" width="11" height="11" fill="#0036ff"/><rect x="468" y="136" width="11" height="11" fill="#0033ff"/><rect x="478" y="136" width="11" height="11" fill="#0032ff"/><rect x="488" y="136" width="11" height="11" fill="#0032ff"/><rect x="498" y="136" width="11" height="11" fill="#0033ff"/><rect x="508" y="136" width="11" height="11" fill="#0035ff"/><rect x="518" y="136" width="11" height="11" fill="#0039ff"/><rect x="528" y="136" width="11" height="11" fill="#003cff"/><rect x="538" y="136" width="11" height="11" fill="#0039ff"/><rect x="548" y="136" width="11" height="11" fill="#0033ff"/><rect x="558" y="136" width="11" height="11" fill="#0030ff"/><rect x="568" y="136" width="11" height="11" fill="#0031ff"/><rect x="578" y="136" width="11" height="11" fill="#0031ff"/><rect x="588" y="136" width="11" height="11" fill="#0031ff"/><rect x="58" y="146" width="11" height="11" fill="#0029ff"/><rect x="68" y="146" width="11" height="11" fill="#0029ff"/><rect x="78" y="146" width="11" height="11" fill="#0029ff"/><rect x="88" y="146" width="11" height="11" fill="#0029ff"/><rect x="98" y="146" width="11" height="11" fill="#0028ff"/><rect x="108" y="146" width="11" height="11" fill="#0029ff"/><rect x="118" y="146" width="11" height="11" fill="#0029ff"/><rect x="128" y="146" width="11" height="11" fill="#002bff"/><rect x="138" y="146" width="11" height="11" fill="#002dff"/><rect x="148" y="146" width="11" height="11" fill="#002eff"/><rect x="158" y="146" width="11" height="11" fill="#0025ff"/><rect x="168" y="146" width="11" height="11" fill="#0012ff"/><rect x="178" y="146" width="11" height="11" fill="#0005ff"/><rect x="188" y="146" width="11" height="11" fill="#0003ff"/><rect x="198" y="146" width="11" height="11" fill="#0005ff"/><rect x="208" y="146" width="11" height="11" fill="#0005ff"/><rect x="218" y="146" width="11" height="11" fill="#0003ff"/><rect x="228" y="146" width="11" height="11" fill="#0009ff"/><rect x="238" y="146" width="11" height="11" fill="#0016ff"/><rect x="248" y="146" width="11" height="11" fill="#0023ff"/><rect x="258" y="146" width="11" height="11" fill="#002aff"/><rect x="268" y="146" width="11" height="11" fill="#002dff"/><rect x="278" y="146" width="11" height="11" fill="#002eff"/><rect x="288" y="146" width="11" height="11" fill="#002cff"/><rect x="298" y="146" width="11" height="11" fill="#0029ff"/><rect x="308" y="146" width="11" height="11" fill="#0027ff"/><rect x="318" y="146" width="11" height="11" fill="#002aff"/><rect x="328" y="146" width="11" height="11" fill="#0036ff"/><rect x="338" y="146" width="11" height="11" fill="#0044ff"/><rect x="348" y="146" width="11" height="11" fill="#004cff"/><rect x="358" y="146" width="11" height="11" fill="#004bff"/><rect x="368" y="146" width="11" height="11" fill="#003fff"/><rect x="378" y="146" width="11" height="11" fill="#0026ff"/><rect x="388" y="146" width="11" height="11" fill="#001bff"/><rect x="398" y="146" width="11" height="11" fill="#002cff"/><rect x="408" y="146" width="11" height="11" fill="#0046ff"/><rect x="418" y="146" width="11" height="11" fill="#0041ff"/><rect x="428" y="146" width="11" height="11" fill="#0020ff"/><rect x="438" y="146" width="11" height="11" fill="#0002ff"/><rect x="448" y="146" width="11" height="11" fill="#0000ec"/><rect x="458" y="146" width="11" height="11" fill="#0000de"/><rect x="468" y="146" width="11" height="11" fill="#0000d5"/><rect x="478" y="146" width="11" height="11" fill="#0000d2"/><rect x="488" y="146" width="11" height="11" fill="#0000d3"/><rect x="498" y="146" width="11" height="11" fill="#0000d8"/><rect x="508" y="146" width="11" height="11" fill="#0000e0"/><rect x="518" y="146" width="11" height="11" fill="#0000e9"/><rect x="528" y="146" width="11" height="11" fill="#0000f1"/><rect x="538" y="146" width="11" height="11" fill="#0000f6"/><rect x="548" y="146" width="11" height="11" fill="#0000f7"/><rect x="558" y="146" width="11" height="11" fill="#0000f8"/><rect x="568" y="146" width="11" height="11" fill="#0000f7"/><rect x="578" y="146" width="11" height="11" fill="#0000f7"/><rect x="588" y="146" width="11" height="11" fill="#0000f7"/><rect x="58" y="156" width="11" height="11" fill="#0029ff"/><rect x="68" y="156" width="11" height="11" fill="#0029ff"/><rect x="78" y="156" width="11" height="11" fill="#0029ff"/><rect x="88" y="156" width="11" height="11" fill="#0029ff"/><rect x="98" y="156" width="11" height="11" fill="#002aff"/><rect x="108" y="156" width="11" height="11" fill="#0029ff"/><rect x="118" y="156" width="11" height="11" fill="#0027ff"/><rect x="128" y="156" width="11" height="11" fill="#0025ff"/><rect x="138" y="156" width="11" height="11" fill="#0027ff"/><rect x="148" y="156" width="11" height="11" fill="#0029ff"/><rect x="158" y="156" width="11" height="11" fill="#0020ff"/><rect x="168" y="156" width="11" height="11" fill="#000dff"/><rect x="178" y="156" width="11" height="11" fill="#0000fe"/><rect x="188" y="156" width="11" height="11" fill="#0000fa"/><rect x="198" y="156" width="11" height="11" fill="#0000fc"/><rect x="208" y="156" width="11" height="11" fill="#0000fc"/><rect x="218" y="156" width="11" height="11" fill="#0000fb"/><rect x="228" y="156" width="11" height="11" fill="#0000ff"/><rect x="238" y="156" width="11" height="11" fill="#000aff"/><rect x="248" y="156" width="11" height="11" fill="#0014ff"/><rect x="258" y="156" width="11" height="11" fill="#001cff"/><rect x="268" y="156" width="11" height="11" fill="#0022ff"/><rect x="278" y="156" width="11" height="11" fill="#0026ff"/><rect x="288" y="156" width="11" height="11" fill="#0028ff"/><rect x="298" y="156" width="11" height="11" fill="#0028ff"/><rect x="308" y="156" width="11" height="11" fill="#0026ff"/><rect x="318" y="156" width="11" height="11" fill="#0028ff"/><rect x="328" y="156" width="11" height="11" fill="#0031ff"/><rect x="338" y="156" width="11" height="11" fill="#003dff"/><rect x="348" y="156" width="11" height="11" fill="#0045ff"/><rect x="358" y="156" width="11" height="11" fill="#0048ff"/><rect x="368" y="156" width="11" height="11" fill="#0040ff"/><rect x="378" y="156" width="11" height="11" fill="#002aff"/><rect x="388" y="156" width="11" height="11" fill="#0022ff"/><rect x="398" y="156" width="11" height="11" fill="#0036ff"/><rect x="408" y="156" width="11" height="11" fill="#0051ff"/><rect x="418" y="156" width="11" height="11" fill="#004aff"/><rect x="428" y="156" width="11" height="11" fill="#0023ff"/><rect x="438" y="156" width="11" height="11" fill="#0000fe"/><rect x="448" y="156" width="11" height="11" fill="#0000e5"/><rect x="458" y="156" width="11" height="11" fill="#0000d5"/><rect x="468" y="156" width="11" height="11" fill="#0000ce"/><rect x="478" y="156" width="11" height="11" fill="#0000cd"/><rect x="488" y="156" width="11" height="11" fill="#0000cd"/><rect x="498" y="156" width="11" height="11" fill="#0000d0"/><rect x="508" y="156" width="11" height="11" fill="#0000d2"/><rect x="518" y="156" width="11" height="11" fill="#0000d4"/><rect x="528" y="156" width="11" height="11" fill="#0000d6"/><rect x="538" y="156" width="11" height="11" fill="#0000da"/><rect x="548" y="156" width="11" height="11" fill="#0000e0"/><rect x="558" y="156" width="11" height="11" fill="#0000e2"/><rect x="568" y="156" width="11" height="11" fill="#0000e2"/><rect x="578" y="156" width="11" height="11" fill="#0000e1"/><rect x="588" y="156" width="11" height="11" fill="#0000e1"/><rect x="58" y="166" width="11" height="11" fill="#0028ff"/><rect x="68" y="166" width="11" height="11" fill="#0028ff"/><rect x="78" y="166" width="11" height="11" fill="#0028ff"/><rect x="88" y="166" width="11" height="11" fill="#0029ff"/><rect x="98" y="166" width="11" height="11" fill="#002cff"/><rect x="108" y="166" width="11" height="11" fill="#002aff"/><rect x="118" y="166" width="11" height="11" fill="#0022ff"/><rect x="128" y="166" width="11" height="11" fill="#001aff"/><rect x="138" y="166" width="11" height="11" fill="#0019ff"/><rect x="148" y="166" width="11" height="11" fill="#001cff"/><rect x="158" y="166" width="11" height="11" fill="#001aff"/><rect x="168" y="166" width="11" height="11" fill="#0014ff"/><rect x="178" y="166" width="11" height="11" fill="#000cff"/><rect x="188" y="166" width="11" height="11" fill="#0002ff"/><rect x="198" y="166" width="11" height="11" fill="#0000f9"/><rect x="208" y="166" width="11" height="11" fill="#0000f6"/><rect x="218" y="166" width="11" height="11" fill="#0000f8"/><rect x="228" y="166" width="11" height="11" fill="#0000fb"/><rect x="238" y="166" width="11" height="11" fill="#0000ff"/><rect x="248" y="166" width="11" height="11" fill="#0004ff"/><rect x="258" y="166" width="11" height="11" fill="#0009ff"/><rect x="268" y="166" width="11" height="11" fill="#0010ff"/><rect x="278" y="166" width="11" height="11" fill="#0019ff"/><rect x="288" y="166" width="11" height="11" fill="#0023ff"/><rect x="298" y="166" width="11" height="11" fill="#0027ff"/><rect x="308" y="166" width="11" height="11" fill="#0025ff"/><rect x="318" y="166" width="11" height="11" fill="#0026ff"/><rect x="328" y="166" width="11" height="11" fill="#002dff"/><rect x="338" y="166" width="11" height="11" fill="#0039ff"/><rect x="348" y="166" width="11" height="11" fill="#0044ff"/><rect x="358" y="166" width="11" height="11" fill="#004dff"/><rect x="368" y="166" width="11" height="11" fill="#0050ff"/><rect x="378" y="166" width="11" height="11" fill="#004fff"/><rect x="388" y="166" width="11" height="11" fill="#0050ff"/><rect x="398" y="166" width="11" height="11" fill="#005bff"/><rect x="408" y="166" width="11" height="11" fill="#0066ff"/><rect x="418" y="166" width="11" height="11" fill="#0063ff"/><rect x="428" y="166" width="11" height="11" fill="#0052ff"/><rect x="438" y="166" width="11" height="11" fill="#0040ff"/><rect x="448" y="166" width="11" height="11" fill="#002fff"/><rect x="458" y="166" width="11" height="11" fill="#0025ff"/><rect x="468" y="166" width="11" height="11" fill="#0025ff"/><rect x="478" y="166" width="11" height="11" fill="#002bff"/><rect x="488" y="166" width="11" height="11" fill="#002bff"/><rect x="498" y="166" width="11" height="11" fill="#0023ff"/><rect x="508" y="166" width="11" height="11" fill="#0015ff"/><rect x="518" y="166" width="11" height="11" fill="#0001ff"/><rect x="528" y="166" width="11" height="11" fill="#0000ef"/><rect x="538" y="166" width="11" height="11" fill="#0000ec"/><rect x="548" y="166" width="11" height="11" fill="#0000f1"/><rect x="558" y="166" width="11" height="11" fill="#0000f4"/><rect x="568" y="166" width="11" height="11" fill="#0000f4"/><rect x="578" y="166" width="11" height="11" fill="#0000f3"/><rect x="588" y="166" width="11" height="11" fill="#0000f3"/><rect x="58" y="176" width="11" height="11" fill="#0029ff"/><rect x="68" y="176" width="11" height="11" fill="#0029ff"/><rect x="78" y="176" width="11" height="11" fill="#0029ff"/><rect x="88" y="176" width="11" height="11" fill="#002aff"/><rect x="98" y="176" width="11" height="11" fill="#002bff"/><rect x="108" y="176" width="11" height="11" fill="#0026ff"/><rect x="118" y="176" width="11" height="11" fill="#001aff"/><rect x="128" y="176" width="11" height="11" fill="#000eff"/><rect x="138" y="176" width="11" height="11" fill="#0009ff"/><rect x="148" y="176" width="11" height="11" fill="#000aff"/><rect x="158" y="176" width="11" height="11" fill="#000dff"/><rect x="168" y="176" width="11" height="11" fill="#0010ff"/><rect x="178" y="176" width="11" height="11" fill="#000dff"/><rect x="188" y="176" width="11" height="11" fill="#0002ff"/><rect x="198" y="176" width="11" height="11" fill="#0000f5"/><rect x="208" y="176" width="11" height="11" fill="#0000f1"/><rect x="218" y="176" width="11" height="11" fill="#0000f2"/><rect x="228" y="176" width="11" height="11" fill="#0000f2"/><rect x="238" y="176" width="11" height="11" fill="#0000f1"/><rect x="248" y="176" width="11" height="11" fill="#0000f0"/><rect x="258" y="176" width="11" height="11" fill="#0000f2"/><rect x="268" y="176" width="11" height="11" fill="#0000f7"/><rect x="278" y="176" width="11" height="11" fill="#0002ff"/><rect x="288" y="176" width="11" height="11" fill="#000eff"/><rect x="298" y="176" width="11" height="11" fill="#0015ff"/><rect x="308" y="176" width="11" height="11" fill="#0013ff"/><rect x="318" y="176" width="11" height="11" fill="#0014ff"/><rect x="328" y="176" width="11" height="11" fill="#001dff"/><rect x="338" y="176" width="11" height="11" fill="#002bff"/><rect x="348" y="176" width="11" height="11" fill="#0036ff"/><rect x="358" y="176" width="11" height="11" fill="#0040ff"/><rect x="368" y="176" width="11" height="11" fill="#004dff"/><rect x="378" y="176" width="11" height="11" fill="#005dff"/><rect x="388" y="176" width="11" height="11" fill="#0067ff"/><rect x="398" y="176" width="11" height="11" fill="#0067ff"/><rect x="408" y="176" width="11" height="11" fill="#0062ff"/><rect x="418" y="176" width="11" height="11" fill="#0064ff"/><rect x="428" y="176" width="11" height="11" fill="#006bff"/><rect x="438" y="176" width="11" height="11" fill="#0068ff"/><rect x="448" y="176" width="11" height="11" fill="#0059ff"/><rect x="458" y="176" width="11" height="11" fill="#004fff"/><rect x="468" y="176" width="11" height="11" fill="#0058ff"/><rect x="478" y="176" width="11" height="11" fill="#006bff"/><rect x="488" y="176" width="11" height="11" fill="#0071ff"/><rect x="498" y="176" width="11" height="11" fill="#0068ff"/><rect x="508" y="176" width="11" height="11" fill="#0050ff"/><rect x="518" y="176" width="11" height="11" fill="#0028ff"/><rect x="528" y="176" width="11" height="11" fill="#0005ff"/><rect x="538" y="176" width="11" height="11" fill="#0000f9"/><rect x="548" y="176" width="11" height="11" fill="#0000fe"/><rect x="558" y="176" width="11" height="11" fill="#0002ff"/><rect x="568" y="176" width="11" height="11" fill="#0002ff"/><rect x="578" y="176" width="11" height="11" fill="#0001ff"/><rect x="588" y="176" width="11" height="11" fill="#0001ff"/><rect x="58" y="186" width="11" height="11" fill="#002cff"/><rect x="68" y="186" width="11" height="11" fill="#002dff"/><rect x="78" y="186" width="11" height="11" fill="#002dff"/><rect x="88" y="186" width="11" height="11" fill="#002aff"/><rect x="98" y="186" width="11" height="11" fill="#0025ff"/><rect x="108" y="186" width="11" height="11" fill="#001cff"/><rect x="118" y="186" width="11" height="11" fill="#0010ff"/><rect x="128" y="186" width="11" height="11" fill="#0005ff"/><rect x="138" y="186" width="11" height="11" fill="#0000fb"/><rect x="148" y="186" width="11" height="11" fill="#0000f6"/><rect x="158" y="186" width="11" height="11" fill="#0000f5"/><rect x="168" y="186" width="11" height="11" fill="#0000f8"/><rect x="178" y="186" width="11" height="11" fill="#0000f8"/><rect x="188" y="186" width="11" height="11" fill="#0000f5"/><rect x="198" y="186" width="11" height="11" fill="#0000ef"/><rect x="208" y="186" width="11" height="11" fill="#0000ea"/><rect x="218" y="186" width="11" height="11" fill="#0000e5"/><rect x="228" y="186" width="11" height="11" fill="#0000e0"/><rect x="238" y="186" width="11" height="11" fill="#0000dc"/><rect x="248" y="186" width="11" height="11" fill="#0000da"/><rect x="258" y="186" width="11" height="11" fill="#0000d9"/><rect x="268" y="186" width="11" height="11" fill="#0000da"/><rect x="278" y="186" width="11" height="11" fill="#0000de"/><rect x="288" y="186" width="11" height="11" fill="#0000e5"/><rect x="298" y="186" width="11" height="11" fill="#0000e8"/><rect x="308" y="186" width="11" height="11" fill="#0000e8"/><rect x="318" y="186" width="11" height="11" fill="#0000ed"/><rect x="328" y="186" width="11" height="11" fill="#0000fb"/><rect x="338" y="186" width="11" height="11" fill="#000dff"/><rect x="348" y="186" width="11" height="11" fill="#0016ff"/><rect x="358" y="186" width="11" height="11" fill="#001bff"/><rect x="368" y="186" width="11" height="11" fill="#0029ff"/><rect x="378" y="186" width="11" height="11" fill="#0044ff"/><rect x="388" y="186" width="11" height="11" fill="#0053ff"/><rect x="398" y="186" width="11" height="11" fill="#004cff"/><rect x="408" y="186" width="11" height="11" fill="#003bff"/><rect x="418" y="186" width="11" height="11" fill="#0041ff"/><rect x="428" y="186" width="11" height="11" fill="#0058ff"/><rect x="438" y="186" width="11" height="11" fill="#005bff"/><rect x="448" y="186" width="11" height="11" fill="#0041ff"/><rect x="458" y="186" width="11" height="11" fill="#002fff"/><rect x="468" y="186" width="11" height="11" fill="#003fff"/><rect x="478" y="186" width="11" height="11" fill="#0063ff"/><rect x="488" y="186" width="11" height="11" fill="#007aff"/><rect x="498" y="186" width="11" height="11" fill="#0080ff"/><rect x="508" y="186" width="11" height="11" fill="#006aff"/><rect x="518" y="186" width="11" height="11" fill="#0034ff"/><rect x="528" y="186" width="11" height="11" fill="#0002ff"/><rect x="538" y="186" width="11" height="11" fill="#0000f1"/><rect x="548" y="186" width="11" height="11" fill="#0000f9"/><rect x="558" y="186" width="11" height="11" fill="#0000fd"/><rect x="568" y="186" width="11" height="11" fill="#0000fd"/><rect x="578" y="186" width="11" height="11" fill="#0000fb"/><rect x="588" y="186" width="11" height="11" fill="#0000fb"/><rect x="58" y="196" width="11" height="11" fill="#0033ff"/><rect x="68" y="196" width="11" height="11" fill="#0034ff"/><rect x="78" y="196" width="11" height="11" fill="#0035ff"/><rect x="88" y="196" width="11" height="11" fill="#002fff"/><rect x="98" y="196" width="11" height="11" fill="#0024ff"/><rect x="108" y="196" width="11" height="11" fill="#0018ff"/><rect x="118" y="196" width="11" height="11" fill="#000dff"/><rect x="128" y="196" width="11" height="11" fill="#0002ff"/><rect x="138" y="196" width="11" height="11" fill="#0000f5"/><rect x="148" y="196" width="11" height="11" fill="#0000e9"/><rect x="158" y="196" width="11" height="11" fill="#0000e3"/><rect x="168" y="196" width="11" height="11" fill="#0000e4"/><rect x="178" y="196" width="11" height="11" fill="#0000e6"/><rect x="188" y="196" width="11" height="11" fill="#0000e7"/><rect x="198" y="196" width="11" height="11" fill="#0000e6"/><rect x="208" y="196" width="11" height="11" fill="#0000e0"/><rect x="218" y="196" width="11" height="11" fill="#0000d6"/><rect x="228" y="196" width="11" height="11" fill="#0000ce"/><rect x="238" y="196" width="11" height="11" fill="#0000ca"/><rect x="248" y="196" width="11" height="11" fill="#0000c6"/><rect x="258" y="196" width="11" height="11" fill="#0000c4"/><rect x="268" y="196" width="11" height="11" fill="#0000c2"/><rect x="278" y="196" width="11" height="11" fill="#0000c1"/><rect x="288" y="196" width="11" height="11" fill="#0000c1"/><rect x="298" y="196" width="11" height="11" fill="#0000c2"/><rect x="308" y="196" width="11" height="11" fill="#0000c4"/><rect x="318" y="196" width="11" height="11" fill="#0000cc"/><rect x="328" y="196" width="11" height="11" fill="#0000de"/><rect x="338" y="196" width="11" height="11" fill="#0000f1"/><rect x="348" y="196" width="11" height="11" fill="#0000f9"/><rect x="358" y="196" width="11" height="11" fill="#0000f8"/><rect x="368" y="196" width="11" height="11" fill="#0005ff"/><rect x="378" y="196" width="11" height="11" fill="#0021ff"/><rect x="388" y="196" width="11" height="11" fill="#0032ff"/><rect x="398" y="196" width="11" height="11" fill="#002aff"/><rect x="408" y="196" width="11" height="11" fill="#0019ff"/><rect x="418" y="196" width="11" height="11" fill="#0023ff"/><rect x="428" y="196" width="11" height="11" fill="#0044ff"/><rect x="438" y="196" width="11" height="11" fill="#004bff"/><rect x="448" y="196" width="11" height="11" fill="#002eff"/><rect x="458" y="196" width="11" height="11" fill="#001aff"/><rect x="468" y="196" width="11" height="11" fill="#002cff"/><rect x="478" y="196" width="11" height="11" fill="#0057ff"/><rect x="488" y="196" width="11" height="11" fill="#0077ff"/><rect x="498" y="196" width="11" height="11" fill="#0088ff"/><rect x="508" y="196" width="11" height="11" fill="#0079ff"/><rect x="518" y="196" width="11" height="11" fill="#0045ff"/><rect x="528" y="196" width="11" height="11" fill="#0014ff"/><rect x="538" y="196" width="11" height="11" fill="#0004ff"/><rect x="548" y="196" width="11" height="11" fill="#000dff"/><rect x="558" y="196" width="11" height="11" fill="#0012ff"/><rect x="568" y="196" width="11" height="11" fill="#0011ff"/><rect x="578" y="196" width="11" height="11" fill="#0010ff"/><rect x="588" y="196" width="11" height="11" fill="#000fff"/><rect x="58" y="206" width="11" height="11" fill="#003fff"/><rect x="68" y="206" width="11" height="11" fill="#0041ff"/><rect x="78" y="206" width="11" height="11" fill="#0041ff"/><rect x="88" y="206" width="11" height="11" fill="#003bff"/><rect x="98" y="206" width="11" height="11" fill="#002eff"/><rect x="108" y="206" width="11" height="11" fill="#0021ff"/><rect x="118" y="206" width="11" height="11" fill="#0015ff"/><rect x="128" y="206" width="11" height="11" fill="#0008ff"/><rect x="138" y="206" width="11" height="11" fill="#0000f8"/><rect x="148" y="206" width="11" height="11" fill="#0000e8"/><rect x="158" y="206" width="11" height="11" fill="#0000e1"/><rect x="168" y="206" width="11" height="11" fill="#0000e2"/><rect x="178" y="206" width="11" height="11" fill="#0000e2"/><rect x="188" y="206" width="11" height="11" fill="#0000e0"/><rect x="198" y="206" width="11" height="11" fill="#0000da"/><rect x="208" y="206" width="11" height="11" fill="#0000d3"/><rect x="218" y="206" width="11" height="11" fill="#0000c9"/><rect x="228" y="206" width="11" height="11" fill="#0000c2"/><rect x="238" y="206" width="11" height="11" fill="#0000bd"/><rect x="248" y="206" width="11" height="11" fill="#0000ba"/><rect x="258" y="206" width="11" height="11" fill="#0000b8"/><rect x="268" y="206" width="11" height="11" fill="#0000b6"/><rect x="278" y="206" width="11" height="11" fill="#0000b5"/><rect x="288" y="206" width="11" height="11" fill="#0000b3"/><rect x="298" y="206" width="11" height="11" fill="#0000b4"/><rect x="308" y="206" width="11" height="11" fill="#0000b6"/><rect x="318" y="206" width="11" height="11" fill="#0000bf"/><rect x="328" y="206" width="11" height="11" fill="#0000d1"/><rect x="338" y="206" width="11" height="11" fill="#0000e5"/><rect x="348" y="206" width="11" height="11" fill="#0000ec"/><rect x="358" y="206" width="11" height="11" fill="#0000eb"/><rect x="368" y="206" width="11" height="11" fill="#0000f4"/><rect x="378" y="206" width="11" height="11" fill="#000aff"/><rect x="388" y="206" width="11" height="11" fill="#0019ff"/><rect x="398" y="206" width="11" height="11" fill="#0018ff"/><rect x="408" y="206" width="11" height="11" fill="#0013ff"/><rect x="418" y="206" width="11" height="11" fill="#0025ff"/><rect x="428" y="206" width="11" height="11" fill="#0049ff"/><rect x="438" y="206" width="11" height="11" fill="#0059ff"/><rect x="448" y="206" width="11" height="11" fill="#004eff"/><rect x="458" y="206" width="11" height="11" fill="#0046ff"/><rect x="468" y="206" width="11" height="11" fill="#0054ff"/><rect x="478" y="206" width="11" height="11" fill="#0070ff"/><rect x="488" y="206" width="11" height="11" fill="#0086ff"/><rect x="498" y="206" width="11" height="11" fill="#0094ff"/><rect x="508" y="206" width="11" height="11" fill="#008eff"/><rect x="518" y="206" width="11" height="11" fill="#0072ff"/><rect x="528" y="206" width="11" height="11" fill="#0056ff"/><rect x="538" y="206" width="11" height="11" fill="#004eff"/><rect x="548" y="206" width="11" height="11" fill="#0055ff"/><rect x="558" y="206" width="11" height="11" fill="#0058ff"/><rect x="568" y="206" width="11" height="11" fill="#0057ff"/><rect x="578" y="206" width="11" height="11" fill="#0057ff"/><rect x="588" y="206" width="11" height="11" fill="#0056ff"/><rect x="58" y="216" width="11" height="11" fill="#004bff"/><rect x="68" y="216" width="11" height="11" fill="#004cff"/><rect x="78" y="216" width="11" height="11" fill="#004dff"/><rect x="88" y="216" width="11" height="11" fill="#0048ff"/><rect x="98" y="216" width="11" height="11" fill="#003cff"/><rect x="108" y="216" width="11" height="11" fill="#002fff"/><rect x="118" y="216" width="11" height="11" fill="#0021ff"/><rect x="128" y="216" width="11" height="11" fill="#0011ff"/><rect x="138" y="216" width="11" height="11" fill="#0000fe"/><rect x="148" y="216" width="11" height="11" fill="#0000eb"/><rect x="158" y="216" width="11" height="11" fill="#0000e3"/><rect x="168" y="216" width="11" height="11" fill="#0000e6"/><rect x="178" y="216" width="11" height="11" fill="#0000e5"/><rect x="188" y="216" width="11" height="11" fill="#0000dc"/><rect x="198" y="216" width="11" height="11" fill="#0000d0"/><rect x="208" y="216" width="11" height="11" fill="#0000c7"/><rect x="218" y="216" width="11" height="11" fill="#0000c1"/><rect x="228" y="216" width="11" height="11" fill="#0000bb"/><rect x="238" y="216" width="11" height="11" fill="#0000b6"/><rect x="248" y="216" width="11" height="11" fill="#0000b3"/><rect x="258" y="216" width="11" height="11" fill="#0000b2"/><rect x="268" y="216" width="11" height="11" fill="#0000b3"/><rect x="278" y="216" width="11" height="11" fill="#0000b3"/><rect x="288" y="216" width="11" height="11" fill="#0000b2"/><rect x="298" y="216" width="11" height="11" fill="#0000b3"/><rect x="308" y="216" width="11" height="11" fill="#0000b5"/><rect x="318" y="216" width="11" height="11" fill="#0000bd"/><rect x="328" y="216" width="11" height="11" fill="#0000ce"/><rect x="338" y="216" width="11" height="11" fill="#0000e2"/><rect x="348" y="216" width="11" height="11" fill="#0000eb"/><rect x="358" y="216" width="11" height="11" fill="#0000ed"/><rect x="368" y="216" width="11" height="11" fill="#0000f1"/><rect x="378" y="216" width="11" height="11" fill="#0000fa"/><rect x="388" y="216" width="11" height="11" fill="#0004ff"/><rect x="398" y="216" width="11" height="11" fill="#000bff"/><rect x="408" y="216" width="11" height="11" fill="#0015ff"/><rect x="418" y="216" width="11" height="11" fill="#002bff"/><rect x="428" y="216" width="11" height="11" fill="#004cff"/><rect x="438" y="216" width="11" height="11" fill="#0065ff"/><rect x="448" y="216" width="11" height="11" fill="#0073ff"/><rect x="458" y="216" width="11" height="11" fill="#007cff"/><rect x="468" y="216" width="11" height="11" fill="#0086ff"/><rect x="478" y="216" width="11" height="11" fill="#0091ff"/><rect x="488" y="216" width="11" height="11" fill="#009dff"/><rect x="498" y="216" width="11" height="11" fill="#00a7ff"/><rect x="508" y="216" width="11" height="11" fill="#00acff"/><rect x="518" y="216" width="11" height="11" fill="#00aaff"/><rect x="528" y="216" width="11" height="11" fill="#00a7ff"/><rect x="538" y="216" width="11" height="11" fill="#00a6ff"/><rect x="548" y="216" width="11" height="11" fill="#00a8ff"/><rect x="558" y="216" width="11" height="11" fill="#00a8ff"/><rect x="568" y="216" width="11" height="11" fill="#00a8ff"/><rect x="578" y="216" width="11" height="11" fill="#00a8ff"/><rect x="588" y="216" width="11" height="11" fill="#00a8ff"/><rect x="58" y="226" width="11" height="11" fill="#004fff"/><rect x="68" y="226" width="11" height="11" fill="#0050ff"/><rect x="78" y="226" width="11" height="11" fill="#0051ff"/><rect x="88" y="226" width="11" height="11" fill="#004cff"/><rect x="98" y="226" width="11" height="11" fill="#0041ff"/><rect x="108" y="226" width="11" height="11" fill="#0034ff"/><rect x="118" y="226" width="11" height="11" fill="#0026ff"/><rect x="128" y="226" width="11" height="11" fill="#0015ff"/><rect x="138" y="226" width="11" height="11" fill="#0000ff"/><rect x="148" y="226" width="11" height="11" fill="#0000e9"/><rect x="158" y="226" width="11" height="11" fill="#0000df"/><rect x="168" y="226" width="11" height="11" fill="#0000e2"/><rect x="178" y="226" width="11" height="11" fill="#0000e1"/><rect x="188" y="226" width="11" height="11" fill="#0000d8"/><rect x="198" y="226" width="11" height="11" fill="#0000cc"/><rect x="208" y="226" width="11" height="11" fill="#0000c3"/><rect x="218" y="226" width="11" height="11" fill="#0000be"/><rect x="228" y="226" width="11" height="11" fill="#0000b9"/><rect x="238" y="226" width="11" height="11" fill="#0000b4"/><rect x="248" y="226" width="11" height="11" fill="#0000b1"/><rect x="258" y="226" width="11" height="11" fill="#0000b0"/><rect x="268" y="226" width="11" height="11" fill="#0000b1"/><rect x="278" y="226" width="11" height="11" fill="#0000b2"/><rect x="288" y="226" width="11" height="11" fill="#0000b2"/><rect x="298" y="226" width="11" height="11" fill="#0000b2"/><rect x="308" y="226" width="11" height="11" fill="#0000b4"/><rect x="318" y="226" width="11" height="11" fill="#0000bc"/><rect x="328" y="226" width="11" height="11" fill="#0000cd"/><rect x="338" y="226" width="11" height="11" fill="#0000e0"/><rect x="348" y="226" width="11" height="11" fill="#0000ed"/><rect x="358" y="226" width="11" height="11" fill="#0000f3"/><rect x="368" y="226" width="11" height="11" fill="#0000f4"/><rect x="378" y="226" width="11" height="11" fill="#0000f0"/><rect x="388" y="226" width="11" height="11" fill="#0000ee"/><rect x="398" y="226" width="11" height="11" fill="#0000f3"/><rect x="408" y="226" width="11" height="11" fill="#0000ff"/><rect x="418" y="226" width="11" height="11" fill="#0012ff"/><rect x="428" y="226" width="11" height="11" fill="#0029ff"/><rect x="438" y="226" width="11" height="11" fill="#0041ff"/><rect x="448" y="226" width="11" height="11" fill="#0059ff"/><rect x="458" y="226" width="11" height="11" fill="#006fff"/><rect x="468" y="226" width="11" height="11" fill="#0081ff"/><rect x="478" y="226" width="11" height="11" fill="#0092ff"/><rect x="488" y="226" width="11" height="11" fill="#00aaff"/><rect x="498" y="226" width="11" height="11" fill="#00c6ff"/><rect x="508" y="226" width="11" height="11" fill="#00d7ff"/><rect x="518" y="226" width="11" height="11" fill="#00daff"/><rect x="528" y="226" width="11" height="11" fill="#00d6ff"/><rect x="538" y="226" width="11" height="11" fill="#00d1ff"/><rect x="548" y="226" width="11" height="11" fill="#00cdff"/><rect x="558" y="226" width="11" height="11" fill="#00cbff"/><rect x="568" y="226" width="11" height="11" fill="#00cbff"/><rect x="578" y="226" width="11" height="11" fill="#00ccff"/><rect x="588" y="226" width="11" height="11" fill="#00ccff"/><rect x="58" y="236" width="11" height="11" fill="#004dff"/><rect x="68" y="236" width="11" height="11" fill="#004eff"/><rect x="78" y="236" width="11" height="11" fill="#004fff"/><rect x="88" y="236" width="11" height="11" fill="#004aff"/><rect x="98" y="236" width="11" height="11" fill="#003fff"/><rect x="108" y="236" width="11" height="11" fill="#0032ff"/><rect x="118" y="236" width="11" height="11" fill="#0025ff"/><rect x="128" y="236" width="11" height="11" fill="#0015ff"/><rect x="138" y="236" width="11" height="11" fill="#0000fc"/><rect x="148" y="236" width="11" height="11" fill="#0000e2"/><rect x="158" y="236" width="11" height="11" fill="#0000d5"/><rect x="168" y="236" width="11" height="11" fill="#0000d8"/><rect x="178" y="236" width="11" height="11" fill="#0000d9"/><rect x="188" y="236" width="11" height="11" fill="#0000d5"/><rect x="198" y="236" width="11" height="11" fill="#0000cd"/><rect x="208" y="236" width="11" height="11" fill="#0000c6"/><rect x="218" y="236" width="11" height="11" fill="#0000c0"/><rect x="228" y="236" width="11" height="11" fill="#0000ba"/><rect x="238" y="236" width="11" height="11" fill="#0000b5"/><rect x="248" y="236" width="11" height="11" fill="#0000b2"/><rect x="258" y="236" width="11" height="11" fill="#0000b1"/><rect x="268" y="236" width="11" height="11" fill="#0000b2"/><rect x="278" y="236" width="11" height="11" fill="#0000b2"/><rect x="288" y="236" width="11" height="11" fill="#0000b1"/><rect x="298" y="236" width="11" height="11" fill="#0000b2"/><rect x="308" y="236" width="11" height="11" fill="#0000b4"/><rect x="318" y="236" width="11" height="11" fill="#0000bc"/><rect x="328" y="236" width="11" height="11" fill="#0000cc"/><rect x="338" y="236" width="11" height="11" fill="#0000e0"/><rect x="348" y="236" width="11" height="11" fill="#0000f0"/><rect x="358" y="236" width="11" height="11" fill="#0000fc"/><rect x="368" y="236" width="11" height="11" fill="#0000fb"/><rect x="378" y="236" width="11" height="11" fill="#0000ee"/><rect x="388" y="236" width="11" height="11" fill="#0000e2"/><rect x="398" y="236" width="11" height="11" fill="#0000df"/><rect x="408" y="236" width="11" height="11" fill="#0000e3"/><rect x="418" y="236" width="11" height="11" fill="#0000ec"/><rect x="428" y="236" width="11" height="11" fill="#0000f8"/><rect x="438" y="236" width="11" height="11" fill="#000aff"/><rect x="448" y="236" width="11" height="11" fill="#0020ff"/><rect x="458" y="236" width="11" height="11" fill="#003bff"/><rect x="468" y="236" width="11" height="11" fill="#0058ff"/><rect x="478" y="236" width="11" height="11" fill="#007aff"/><rect x="488" y="236" width="11" height="11" fill="#00a6ff"/><rect x="498" y="236" width="11" height="11" fill="#00d9ff"/><rect x="508" y="236" width="11" height="11" fill="#00f6ff"/><rect x="518" y="236" width="11" height="11" fill="#00f4ff"/><rect x="528" y="236" width="11" height="11" fill="#00e6ff"/><rect x="538" y="236" width="11" height="11" fill="#00d9ff"/><rect x="548" y="236" width="11" height="11" fill="#00cfff"/><rect x="558" y="236" width="11" height="11" fill="#00cbff"/><rect x="568" y="236" width="11" height="11" fill="#00cbff"/><rect x="578" y="236" width="11" height="11" fill="#00ccff"/><rect x="588" y="236" width="11" height="11" fill="#00cdff"/><rect x="58" y="246" width="11" height="11" fill="#004bff"/><rect x="68" y="246" width="11" height="11" fill="#004dff"/><rect x="78" y="246" width="11" height="11" fill="#004dff"/><rect x="88" y="246" width="11" height="11" fill="#0048ff"/><rect x="98" y="246" width="11" height="11" fill="#003bff"/><rect x="108" y="246" width="11" height="11" fill="#002eff"/><rect x="118" y="246" width="11" height="11" fill="#0020ff"/><rect x="128" y="246" width="11" height="11" fill="#000fff"/><rect x="138" y="246" width="11" height="11" fill="#0000f6"/><rect x="148" y="246" width="11" height="11" fill="#0000db"/><rect x="158" y="246" width="11" height="11" fill="#0000ce"/><rect x="168" y="246" width="11" height="11" fill="#0000cf"/><rect x="178" y="246" width="11" height="11" fill="#0000d2"/><rect x="188" y="246" width="11" height="11" fill="#0000d1"/><rect x="198" y="246" width="11" height="11" fill="#0000cd"/><rect x="208" y="246" width="11" height="11" fill="#0000c7"/><rect x="218" y="246" width="11" height="11" fill="#0000c1"/><rect x="228" y="246" width="11" height="11" fill="#0000bb"/><rect x="238" y="246" width="11" height="11" fill="#0000b6"/><rect x="248" y="246" width="11" height="11" fill="#0000b4"/><rect x="258" y="246" width="11" height="11" fill="#0000b3"/><rect x="268" y="246" width="11" height="11" fill="#0000b4"/><rect x="278" y="246" width="11" height="11" fill="#0000b4"/><rect x="288" y="246" width="11" height="11" fill="#0000b4"/><rect x="298" y="246" width="11" height="11" fill="#0000b6"/><rect x="308" y="246" width="11" height="11" fill="#0000b8"/><rect x="318" y="246" width="11" height="11" fill="#0000c0"/><rect x="328" y="246" width="11" height="11" fill="#0000ce"/><rect x="338" y="246" width="11" height="11" fill="#0000e0"/><rect x="348" y="246" width="11" height="11" fill="#0000f0"/><rect x="358" y="246" width="11" height="11" fill="#0000fd"/><rect x="368" y="246" width="11" height="11" fill="#0002ff"/><rect x="378" y="246" width="11" height="11" fill="#0000fc"/><rect x="388" y="246" width="11" height="11" fill="#0000f6"/><rect x="398" y="246" width="11" height="11" fill="#0000f2"/><rect x="408" y="246" width="11" height="11" fill="#0000f1"/><rect x="418" y="246" width="11" height="11" fill="#0000f7"/><rect x="428" y="246" width="11" height="11" fill="#0003ff"/><rect x="438" y="246" width="11" height="11" fill="#0010ff"/><rect x="448" y="246" width="11" height="11" fill="#001fff"/><rect x="458" y="246" width="11" height="11" fill="#0031ff"/><rect x="468" y="246" width="11" height="11" fill="#0044ff"/><rect x="478" y="246" width="11" height="11" fill="#005cff"/><rect x="488" y="246" width="11" height="11" fill="#007aff"/><rect x="498" y="246" width="11" height="11" fill="#009eff"/><rect x="508" y="246" width="11" height="11" fill="#00bdff"/><rect x="518" y="246" width="11" height="11" fill="#00d6ff"/><rect x="528" y="246" width="11" height="11" fill="#00e2ff"/><rect x="538" y="246" width="11" height="11" fill="#00deff"/><rect x="548" y="246" width="11" height="11" fill="#00d0ff"/><rect x="558" y="246" width="11" height="11" fill="#00c9ff"/><rect x="568" y="246" width="11" height="11" fill="#00caff"/><rect x="578" y="246" width="11" height="11" fill="#00ccff"/><rect x="588" y="246" width="11" height="11" fill="#00cdff"/><rect x="58" y="256" width="11" height="11" fill="#004bff"/><rect x="68" y="256" width="11" height="11" fill="#004cff"/><rect x="78" y="256" width="11" height="11" fill="#004dff"/><rect x="88" y="256" width="11" height="11" fill="#0046ff"/><rect x="98" y="256" width="11" height="11" fill="#0038ff"/><rect x="108" y="256" width="11" height="11" fill="#0028ff"/><rect x="118" y="256" width="11" height="11" fill="#0019ff"/><rect x="128" y="256" width="11" height="11" fill="#0007ff"/><rect x="138" y="256" width="11" height="11" fill="#0000ee"/><rect x="148" y="256" width="11" height="11" fill="#0000d5"/><rect x="158" y="256" width="11" height="11" fill="#0000c8"/><rect x="168" y="256" width="11" height="11" fill="#0000c9"/><rect x="178" y="256" width="11" height="11" fill="#0000cc"/><rect x="188" y="256" width="11" height="11" fill="#0000cd"/><rect x="198" y="256" width="11" height="11" fill="#0000cc"/><rect x="208" y="256" width="11" height="11" fill="#0000c7"/><rect x="218" y="256" width="11" height="11" fill="#0000c1"/><rect x="228" y="256" width="11" height="11" fill="#0000bd"/><rect x="238" y="256" width="11" height="11" fill="#0000b9"/><rect x="248" y="256" width="11" height="11" fill="#0000b8"/><rect x="258" y="256" width="11" height="11" fill="#0000b7"/><rect x="268" y="256" width="11" height="11" fill="#0000b7"/><rect x="278" y="256" width="11" height="11" fill="#0000b9"/><rect x="288" y="256" width="11" height="11" fill="#0000bb"/><rect x="298" y="256" width="11" height="11" fill="#0000bd"/><rect x="308" y="256" width="11" height="11" fill="#0000c1"/><rect x="318" y="256" width="11" height="11" fill="#0000c8"/><rect x="328" y="256" width="11" height="11" fill="#0000d3"/><rect x="338" y="256" width="11" height="11" fill="#0000e1"/><rect x="348" y="256" width="11" height="11" fill="#0000ed"/><rect x="358" y="256" width="11" height="11" fill="#0000f7"/><rect x="368" y="256" width="11" height="11" fill="#0006ff"/><rect x="378" y="256" width="11" height="11" fill="#0018ff"/><rect x="388" y="256" width="11" height="11" fill="#0024ff"/><rect x="398" y="256" width="11" height="11" fill="#0025ff"/><rect x="408" y="256" width="11" height="11" fill="#0022ff"/><rect x="418" y="256" width="11" height="11" fill="#002bff"/><rect x="428" y="256" width="11" height="11" fill="#003fff"/><rect x="438" y="256" width="11" height="11" fill="#004dff"/><rect x="448" y="256" width="11" height="11" fill="#0052ff"/><rect x="458" y="256" width="11" height="11" fill="#0050ff"/><rect x="468" y="256" width="11" height="11" fill="#004aff"/><rect x="478" y="256" width="11" height="11" fill="#003fff"/><rect x="488" y="256" width="11" height="11" fill="#0031ff"/><rect x="498" y="256" width="11" height="11" fill="#0025ff"/><rect x="508" y="256" width="11" height="11" fill="#003fff"/><rect x="518" y="256" width="11" height="11" fill="#0089ff"/><rect x="528" y="256" width="11" height="11" fill="#00ceff"/><rect x="538" y="256" width="11" height="11" fill="#00e1ff"/><rect x="548" y="256" width="11" height="11" fill="#00d1ff"/><rect x="558" y="256" width="11" height="11" fill="#00c9ff"/><rect x="568" y="256" width="11" height="11" fill="#00caff"/><rect x="578" y="256" width="11" height="11" fill="#00ccff"/><rect x="588" y="256" width="11" height="11" fill="#00cdff"/><rect x="58" y="266" width="11" height="11" fill="#004fff"/><rect x="68" y="266" width="11" height="11" fill="#0051ff"/><rect x="78" y="266" width="11" height="11" fill="#0052ff"/><rect x="88" y="266" width="11" height="11" fill="#0049ff"/><rect x="98" y="266" width="11" height="11" fill="#0038ff"/><rect x="108" y="266" width="11" height="11" fill="#0025ff"/><rect x="118" y="266" width="11" height="11" fill="#0014ff"/><rect x="128" y="266" width="11" height="11" fill="#0002ff"/><rect x="138" y="266" width="11" height="11" fill="#0000eb"/><rect x="148" y="266" width="11" height="11" fill="#0000d4"/><rect x="158" y="266" width="11" height="11" fill="#0000c9"/><rect x="168" y="266" width="11" height="11" fill="#0000cb"/><rect x="178" y="266" width="11" height="11" fill="#0000ce"/><rect x="188" y="266" width="11" height="11" fill="#0000cf"/><rect x="198" y="266" width="11" height="11" fill="#0000ce"/><rect x="208" y="266" width="11" height="11" fill="#0000cb"/><rect x="218" y="266" width="11" height="11" fill="#0000c7"/><rect x="228" y="266" width="11" height="11" fill="#0000c4"/><rect x="238" y="266" width="11" height="11" fill="#0000c2"/><rect x="248" y="266" width="11" height="11" fill="#0000c1"/><rect x="258" y="266" width="11" height="11" fill="#0000c1"/><rect x="268" y="266" width="11" height="11" fill="#0000c1"/><rect x="278" y="266" width="11" height="11" fill="#0000c2"/><rect x="288" y="266" width="11" height="11" fill="#0000c5"/><rect x="298" y="266" width="11" height="11" fill="#0000c7"/><rect x="308" y="266" width="11" height="11" fill="#0000ca"/><rect x="318" y="266" width="11" height="11" fill="#0000cf"/><rect x="328" y="266" width="11" height="11" fill="#0000d8"/><rect x="338" y="266" width="11" height="11" fill="#0000e2"/><rect x="348" y="266" width="11" height="11" fill="#0000eb"/><rect x="358" y="266" width="11" height="11" fill="#0000f4"/><rect x="368" y="266" width="11" height="11" fill="#0006ff"/><rect x="378" y="266" width="11" height="11" fill="#0022ff"/><rect x="388" y="266" width="11" height="11" fill="#0036ff"/><rect x="398" y="266" width="11" height="11" fill="#0037ff"/><rect x="408" y="266" width="11" height="11" fill="#0032ff"/><rect x="418" y="266" width="11" height="11" fill="#0041ff"/><rect x="428" y="266" width="11" height="11" fill="#0061ff"/><rect x="438" y="266" width="11" height="11" fill="#0077ff"/><rect x="448" y="266" width="11" height="11" fill="#007cff"/><rect x="458" y="266" width="11" height="11" fill="#0076ff"/><rect x="468" y="266" width="11" height="11" fill="#0066ff"/><rect x="478" y="266" width="11" height="11" fill="#004bff"/><rect x="488" y="266" width="11" height="11" fill="#001eff"/><rect x="498" y="266" width="11" height="11" fill="#0000e8"/><rect x="508" y="266" width="11" height="11" fill="#0000f6"/><rect x="518" y="266" width="11" height="11" fill="#005cff"/><rect x="528" y="266" width="11" height="11" fill="#00c1ff"/><rect x="538" y="266" width="11" height="11" fill="#00e2ff"/><rect x="548" y="266" width="11" height="11" fill="#00d1ff"/><rect x="558" y="266" width="11" height="11" fill="#00c8ff"/><rect x="568" y="266" width="11" height="11" fill="#00caff"/><rect x="578" y="266" width="11" height="11" fill="#00ccff"/><rect x="588" y="266" width="11" height="11" fill="#00cdff"/><rect x="58" y="276" width="11" height="11" fill="#0058ff"/><rect x="68" y="276" width="11" height="11" fill="#005bff"/><rect x="78" y="276" width="11" height="11" fill="#005cff"/><rect x="88" y="276" width="11" height="11" fill="#0052ff"/><rect x="98" y="276" width="11" height="11" fill="#003dff"/><rect x="108" y="276" width="11" height="11" fill="#0027ff"/><rect x="118" y="276" width="11" height="11" fill="#0014ff"/><rect x="128" y="276" width="11" height="11" fill="#0001ff"/><rect x="138" y="276" width="11" height="11" fill="#0000ec"/><rect x="148" y="276" width="11" height="11" fill="#0000da"/><rect x="158" y="276" width="11" height="11" fill="#0000d1"/><rect x="168" y="276" width="11" height="11" fill="#0000d3"/><rect x="178" y="276" width="11" height="11" fill="#0000d5"/><rect x="188" y="276" width="11" height="11" fill="#0000d6"/><rect x="198" y="276" width="11" height="11" fill="#0000d5"/><rect x="208" y="276" width="11" height="11" fill="#0000d4"/><rect x="218" y="276" width="11" height="11" fill="#0000d3"/><rect x="228" y="276" width="11" height="11" fill="#0000d2"/><rect x="238" y="276" width="11" height="11" fill="#0000d1"/><rect x="248" y="276" width="11" height="11" fill="#0000d1"/><rect x="258" y="276" width="11" height="11" fill="#0000d1"/><rect x="268" y="276" width="11" height="11" fill="#0000d1"/><rect x="278" y="276" width="11" height="11" fill="#0000d1"/><rect x="288" y="276" width="11" height="11" fill="#0000d2"/><rect x="298" y="276" width="11" height="11" fill="#0000d3"/><rect x="308" y="276" width="11" height="11" fill="#0000d4"/><rect x="318" y="276" width="11" height="11" fill="#0000d6"/><rect x="328" y="276" width="11" height="11" fill="#0000dc"/><rect x="338" y="276" width="11" height="11" fill="#0000e3"/><rect x="348" y="276" width="11" height="11" fill="#0000eb"/><rect x="358" y="276" width="11" height="11" fill="#0000f4"/><rect x="368" y="276" width="11" height="11" fill="#0004ff"/><rect x="378" y="276" width="11" height="11" fill="#0019ff"/><rect x="388" y="276" width="11" height="11" fill="#0026ff"/><rect x="398" y="276" width="11" height="11" fill="#0021ff"/><rect x="408" y="276" width="11" height="11" fill="#001bff"/><rect x="418" y="276" width="11" height="11" fill="#0031ff"/><rect x="428" y="276" width="11" height="11" fill="#0060ff"/><rect x="438" y="276" width="11" height="11" fill="#0084ff"/><rect x="448" y="276" width="11" height="11" fill="#0096ff"/><rect x="458" y="276" width="11" height="11" fill="#009bff"/><rect x="468" y="276" width="11" height="11" fill="#0097ff"/><rect x="478" y="276" width="11" height="11" fill="#0082ff"/><rect x="488" y="276" width="11" height="11" fill="#004bff"/><rect x="498" y="276" width="11" height="11" fill="#0000fb"/><rect x="508" y="276" width="11" height="11" fill="#0000f8"/><rect x="518" y="276" width="11" height="11" fill="#005aff"/><rect x="528" y="276" width="11" height="11" fill="#00c1ff"/><rect x="538" y="276" width="11" height="11" fill="#00e2ff"/><rect x="548" y="276" width="11" height="11" fill="#00d0ff"/><rect x="558" y="276" width="11" height="11" fill="#00c7ff"/><rect x="568" y="276" width="11" height="11" fill="#00c8ff"/><rect x="578" y="276" width="11" height="11" fill="#00cbff"/><rect x="588" y="276" width="11" height="11" fill="#00ccff"/><rect x="58" y="286" width="11" height="11" fill="#006aff"/><rect x="68" y="286" width="11" height="11" fill="#006dff"/><rect x="78" y="286" width="11" height="11" fill="#006eff"/><rect x="88" y="286" width="11" height="11" fill="#0062ff"/><rect x="98" y="286" width="11" height="11" fill="#004bff"/><rect x="108" y="286" width="11" height="11" fill="#0032ff"/><rect x="118" y="286" width="11" height="11" fill="#001aff"/><rect x="128" y="286" width="11" height="11" fill="#0005ff"/><rect x="138" y="286" width="11" height="11" fill="#0000f1"/><rect x="148" y="286" width="11" height="11" fill="#0000e2"/><rect x="158" y="286" width="11" height="11" fill="#0000db"/><rect x="168" y="286" width="11" height="11" fill="#0000db"/><rect x="178" y="286" width="11" height="11" fill="#0000dd"/><rect x="188" y="286" width="11" height="11" fill="#0000dd"/><rect x="198" y="286" width="11" height="11" fill="#0000dd"/><rect x="208" y="286" width="11" height="11" fill="#0000dd"/><rect x="218" y="286" width="11" height="11" fill="#0000dd"/><rect x="228" y="286" width="11" height="11" fill="#0000dd"/><rect x="238" y="286" width="11" height="11" fill="#0000dd"/><rect x="248" y="286" width="11" height="11" fill="#0000dd"/><rect x="258" y="286" width="11" height="11" fill="#0000dd"/><rect x="268" y="286" width="11" height="11" fill="#0000dd"/><rect x="278" y="286" width="11" height="11" fill="#0000dd"/><rect x="288" y="286" width="11" height="11" fill="#0000dd"/><rect x="298" y="286" width="11" height="11" fill="#0000dd"/><rect x="308" y="286" width="11" height="11" fill="#0000dc"/><rect x="318" y="286" width="11" height="11" fill="#0000dc"/><rect x="328" y="286" width="11" height="11" fill="#0000df"/><rect x="338" y="286" width="11" height="11" fill="#0000e3"/><rect x="348" y="286" width="11" height="11" fill="#0000eb"/><rect x="358" y="286" width="11" height="11" fill="#0000f7"/><rect x="368" y="286" width="11" height="11" fill="#0005ff"/><rect x="378" y="286" width="11" height="11" fill="#0013ff"/><rect x="388" y="286" width="11" height="11" fill="#0018ff"/><rect x="398" y="286" width="11" height="11" fill="#000fff"/><rect x="408" y="286" width="11" height="11" fill="#0007ff"/><rect x="418" y="286" width="11" height="11" fill="#0023ff"/><rect x="428" y="286" width="11" height="11" fill="#005dff"/><rect x="438" y="286" width="11" height="11" fill="#008cff"/><rect x="448" y="286" width="11" height="11" fill="#00a7ff"/><rect x="458" y="286" width="11" height="11" fill="#00b6ff"/><rect x="468" y="286" width="11" height="11" fill="#00bcff"/><rect x="478" y="286" width="11" height="11" fill="#00b1ff"/><rect x="488" y="286" width="11" height="11" fill="#0081ff"/><rect x="498" y="286" width="11" height="11" fill="#0037ff"/><rect x="508" y="286" width="11" height="11" fill="#002cff"/><rect x="518" y="286" width="11" height="11" fill="#0076ff"/><rect x="528" y="286" width="11" height="11" fill="#00c7ff"/><rect x="538" y="286" width="11" height="11" fill="#00e0ff"/><rect x="548" y="286" width="11" height="11" fill="#00d2ff"/><rect x="558" y="286" width="11" height="11" fill="#00caff"/><rect x="568" y="286" width="11" height="11" fill="#00cbff"/><rect x="578" y="286" width="11" height="11" fill="#00cdff"/><rect x="588" y="286" width="11" height="11" fill="#00ceff"/><rect x="58" y="296" width="11" height="11" fill="#0084ff"/><rect x="68" y="296" width="11" height="11" fill="#0087ff"/><rect x="78" y="296" width="11" height="11" fill="#0088ff"/><rect x="88" y="296" width="11" height="11" fill="#007cff"/><rect x="98" y="296" width="11" height="11" fill="#0063ff"/><rect x="108" y="296" width="11" height="11" fill="#0046ff"/><rect x="118" y="296" width="11" height="11" fill="#0029ff"/><rect x="128" y="296" width="11" height="11" fill="#000eff"/><rect x="138" y="296" width="11" height="11" fill="#0000fa"/><rect x="148" y="296" width="11" height="11" fill="#0000ed"/><rect x="158" y="296" width="11" height="11" fill="#0000e5"/><rect x="168" y="296" width="11" height="11" fill="#0000e1"/><rect x="178" y="296" width="11" height="11" fill="#0000e0"/><rect x="188" y="296" width="11" height="11" fill="#0000e1"/><rect x="198" y="296" width="11" height="11" fill="#0000e2"/><rect x="208" y="296" width="11" height="11" fill="#0000e3"/><rect x="218" y="296" width="11" height="11" fill="#0000e3"/><rect x="228" y="296" width="11" height="11" fill="#0000e3"/><rect x="238" y="296" width="11" height="11" fill="#0000e3"/><rect x="248" y="296" width="11" height="11" fill="#0000e3"/><rect x="258" y="296" width="11" height="11" fill="#0000e3"/><rect x="268" y="296" width="11" height="11" fill="#0000e3"/><rect x="278" y="296" width="11" height="11" fill="#0000e3"/><rect x="288" y="296" width="11" height="11" fill="#0000e3"/><rect x="298" y="296" width="11" height="11" fill="#0000e3"/><rect x="308" y="296" width="11" height="11" fill="#0000e2"/><rect x="318" y="296" width="11" height="11" fill="#0000e2"/><rect x="328" y="296" width="11" height="11" fill="#0000e1"/><rect x="338" y="296" width="11" height="11" fill="#0000e2"/><rect x="348" y="296" width="11" height="11" fill="#0000eb"/><rect x="358" y="296" width="11" height="11" fill="#0000fa"/><rect x="368" y="296" width="11" height="11" fill="#000aff"/><rect x="378" y="296" width="11" height="11" fill="#0016ff"/><rect x="388" y="296" width="11" height="11" fill="#0019ff"/><rect x="398" y="296" width="11" height="11" fill="#000eff"/><rect x="408" y="296" width="11" height="11" fill="#0006ff"/><rect x="418" y="296" width="11" height="11" fill="#0024ff"/><rect x="428" y="296" width="11" height="11" fill="#0064ff"/><rect x="438" y="296" width="11" height="11" fill="#0097ff"/><rect x="448" y="296" width="11" height="11" fill="#00b4ff"/><rect x="458" y="296" width="11" height="11" fill="#00c3ff"/><rect x="468" y="296" width="11" height="11" fill="#00c9ff"/><rect x="478" y="296" width="11" height="11" fill="#00c5ff"/><rect x="488" y="296" width="11" height="11" fill="#00afff"/><rect x="498" y="296" width="11" height="11" fill="#008cff"/><rect x="508" y="296" width="11" height="11" fill="#0087ff"/><rect x="518" y="296" width="11" height="11" fill="#00abff"/><rect x="528" y="296" width="11" height="11" fill="#00d2ff"/><rect x="538" y="296" width="11" height="11" fill="#00deff"/><rect x="548" y="296" width="11" height="11" fill="#00d7ff"/><rect x="558" y="296" width="11" height="11" fill="#00d3ff"/><rect x="568" y="296" width="11" height="11" fill="#00d4ff"/><rect x="578" y="296" width="11" height="11" fill="#00d5ff"/><rect x="588" y="296" width="11" height="11" fill="#00d5ff"/><rect x="58" y="306" width="11" height="11" fill="#0099ff"/><rect x="68" y="306" width="11" height="11" fill="#009bff"/><rect x="78" y="306" width="11" height="11" fill="#009cff"/><rect x="88" y="306" width="11" height="11" fill="#0092ff"/><rect x="98" y="306" width="11" height="11" fill="#007dff"/><rect x="108" y="306" width="11" height="11" fill="#0060ff"/><rect x="118" y="306" width="11" height="11" fill="#003eff"/><rect x="128" y="306" width="11" height="11" fill="#001eff"/><rect x="138" y="306" width="11" height="11" fill="#0008ff"/><rect x="148" y="306" width="11" height="11" fill="#0000fa"/><rect x="158" y="306" width="11" height="11" fill="#0000f0"/><rect x="168" y="306" width="11" height="11" fill="#0000e9"/><rect x="178" y="306" width="11" height="11" fill="#0000e5"/><rect x="188" y="306" width="11" height="11" fill="#0000e4"/><rect x="198" y="306" width="11" height="11" fill="#0000e5"/><rect x="208" y="306" width="11" height="11" fill="#0000e6"/><rect x="218" y="306" width="11" height="11" fill="#0000e6"/><rect x="228" y="306" width="11" height="11" fill="#0000e5"/><rect x="238" y="306" width="11" height="11" fill="#0000e5"/><rect x="248" y="306" width="11" height="11" fill="#0000e5"/><rect x="258" y="306" width="11" height="11" fill="#0000e5"/><rect x="268" y="306" width="11" height="11" fill="#0000e5"/><rect x="278" y="306" width="11" height="11" fill="#0000e5"/><rect x="288" y="306" width="11" height="11" fill="#0000e5"/><rect x="298" y="306" width="11" height="11" fill="#0000e6"/><rect x="308" y="306" width="11" height="11" fill="#0000e6"/><rect x="318" y="306" width="11" height="11" fill="#0000e5"/><rect x="328" y="306" width="11" height="11" fill="#0000e3"/><rect x="338" y="306" width="11" height="11" fill="#0000e3"/><rect x="348" y="306" width="11" height="11" fill="#0000ef"/><rect x="358" y="306" width="11" height="11" fill="#0004ff"/><rect x="368" y="306" width="11" height="11" fill="#0013ff"/><rect x="378" y="306" width="11" height="11" fill="#001aff"/><rect x="388" y="306" width="11" height="11" fill="#001aff"/><rect x="398" y="306" width="11" height="11" fill="#0012ff"/><rect x="408" y="306" width="11" height="11" fill="#0011ff"/><rect x="418" y="306" width="11" height="11" fill="#0033ff"/><rect x="428" y="306" width="11" height="11" fill="#0072ff"/><rect x="438" y="306" width="11" height="11" fill="#00a4ff"/><rect x="448" y="306" width="11" height="11" fill="#00bfff"/><rect x="458" y="306" width="11" height="11" fill="#00cbff"/><rect x="468" y="306" width="11" height="11" fill="#00cfff"/><rect x="478" y="306" width="11" height="11" fill="#00cdff"/><rect x="488" y="306" width="11" height="11" fill="#00cbff"/><rect x="498" y="306" width="11" height="11" fill="#00caff"/><rect x="508" y="306" width="11" height="11" fill="#00cdff"/><rect x="518" y="306" width="11" height="11" fill="#00d4ff"/><rect x="528" y="306" width="11" height="11" fill="#00dbff"/><rect x="538" y="306" width="11" height="11" fill="#00ddff"/><rect x="548" y="306" width="11" height="11" fill="#00dcff"/><rect x="558" y="306" width="11" height="11" fill="#00dbff"/><rect x="568" y="306" width="11" height="11" fill="#00dbff"/><rect x="578" y="306" width="11" height="11" fill="#00dbff"/><rect x="588" y="306" width="11" height="11" fill="#00dbff"/><rect x="58" y="316" width="11" height="11" fill="#009eff"/><rect x="68" y="316" width="11" height="11" fill="#009fff"/><rect x="78" y="316" width="11" height="11" fill="#009fff"/><rect x="88" y="316" width="11" height="11" fill="#009bff"/><rect x="98" y="316" width="11" height="11" fill="#0092ff"/><rect x="108" y="316" width="11" height="11" fill="#007cff"/><rect x="118" y="316" width="11" height="11" fill="#0059ff"/><rect x="128" y="316" width="11" height="11" fill="#0034ff"/><rect x="138" y="316" width="11" height="11" fill="#001aff"/><rect x="148" y="316" width="11" height="11" fill="#000bff"/><rect x="158" y="316" width="11" height="11" fill="#0000fe"/><rect x="168" y="316" width="11" height="11" fill="#0000f6"/><rect x="178" y="316" width="11" height="11" fill="#0000ef"/><rect x="188" y="316" width="11" height="11" fill="#0000ea"/><rect x="198" y="316" width="11" height="11" fill="#0000e6"/><rect x="208" y="316" width="11" height="11" fill="#0000e5"/><rect x="218" y="316" width="11" height="11" fill="#0000e6"/><rect x="228" y="316" width="11" height="11" fill="#0000e7"/><rect x="238" y="316" width="11" height="11" fill="#0000e6"/><rect x="248" y="316" width="11" height="11" fill="#0000e6"/><rect x="258" y="316" width="11" height="11" fill="#0000e6"/><rect x="268" y="316" width="11" height="11" fill="#0000e7"/><rect x="278" y="316" width="11" height="11" fill="#0000e7"/><rect x="288" y="316" width="11" height="11" fill="#0000e6"/><rect x="298" y="316" width="11" height="11" fill="#0000e6"/><rect x="308" y="316" width="11" height="11" fill="#0000e7"/><rect x="318" y="316" width="11" height="11" fill="#0000e6"/><rect x="328" y="316" width="11" height="11" fill="#0000e4"/><rect x="338" y="316" width="11" height="11" fill="#0000e7"/><rect x="348" y="316" width="11" height="11" fill="#0000f8"/><rect x="358" y="316" width="11" height="11" fill="#0015ff"/><rect x="368" y="316" width="11" height="11" fill="#0021ff"/><rect x="378" y="316" width="11" height="11" fill="#0018ff"/><rect x="388" y="316" width="11" height="11" fill="#0010ff"/><rect x="398" y="316" width="11" height="11" fill="#0012ff"/><rect x="408" y="316" width="11" height="11" fill="#0023ff"/><rect x="418" y="316" width="11" height="11" fill="#004bff"/><rect x="428" y="316" width="11" height="11" fill="#0086ff"/><rect x="438" y="316" width="11" height="11" fill="#00b3ff"/><rect x="448" y="316" width="11" height="11" fill="#00ccff"/><rect x="458" y="316" width="11" height="11" fill="#00d7ff"/><rect x="468" y="316" width="11" height="11" fill="#00d7ff"/><rect x="478" y="316" width="11" height="11" fill="#00d1ff"/><rect x="488" y="316" width="11" height="11" fill="#00cdff"/><rect x="498" y="316" width="11" height="11" fill="#00ccff"/><rect x="508" y="316" width="11" height="11" fill="#00cfff"/><rect x="518" y="316" width="11" height="11" fill="#00d6ff"/><rect x="528" y="316" width="11" height="11" fill="#00dcff"/><rect x="538" y="316" width="11" height="11" fill="#00deff"/><rect x="548" y="316" width="11" height="11" fill="#00ddff"/><rect x="558" y="316" width="11" height="11" fill="#00dcff"/><rect x="568" y="316" width="11" height="11" fill="#00dcff"/><rect x="578" y="316" width="11" height="11" fill="#00ddff"/><rect x="588" y="316" width="11" height="11" fill="#00ddff"/><rect x="58" y="326" width="11" height="11" fill="#009aff"/><rect x="68" y="326" width="11" height="11" fill="#0099ff"/><rect x="78" y="326" width="11" height="11" fill="#0099ff"/><rect x="88" y="326" width="11" height="11" fill="#009bff"/><rect x="98" y="326" width="11" height="11" fill="#009fff"/><rect x="108" y="326" width="11" height="11" fill="#0093ff"/><rect x="118" y="326" width="11" height="11" fill="#0072ff"/><rect x="128" y="326" width="11" height="11" fill="#004dff"/><rect x="138" y="326" width="11" height="11" fill="#0031ff"/><rect x="148" y="326" width="11" height="11" fill="#001dff"/><rect x="158" y="326" width="11" height="11" fill="#000fff"/><rect x="168" y="326" width="11" height="11" fill="#0006ff"/><rect x="178" y="326" width="11" height="11" fill="#0000fb"/><rect x="188" y="326" width="11" height="11" fill="#0000f0"/><rect x="198" y="326" width="11" height="11" fill="#0000e6"/><rect x="208" y="326" width="11" height="11" fill="#0000e3"/><rect x="218" y="326" width="11" height="11" fill="#0000e5"/><rect x="228" y="326" width="11" height="11" fill="#0000e6"/><rect x="238" y="326" width="11" height="11" fill="#0000e6"/><rect x="248" y="326" width="11" height="11" fill="#0000e6"/><rect x="258" y="326" width="11" height="11" fill="#0000e6"/><rect x="268" y="326" width="11" height="11" fill="#0000e6"/><rect x="278" y="326" width="11" height="11" fill="#0000e6"/><rect x="288" y="326" width="11" height="11" fill="#0000e6"/><rect x="298" y="326" width="11" height="11" fill="#0000e6"/><rect x="308" y="326" width="11" height="11" fill="#0000e5"/><rect x="318" y="326" width="11" height="11" fill="#0000e6"/><rect x="328" y="326" width="11" height="11" fill="#0000e6"/><rect x="338" y="326" width="11" height="11" fill="#0000ed"/><rect x="348" y="326" width="11" height="11" fill="#0005ff"/><rect x="358" y="326" width="11" height="11" fill="#0027ff"/><rect x="368" y="326" width="11" height="11" fill="#0030ff"/><rect x="378" y="326" width="11" height="11" fill="#001bff"/><rect x="388" y="326" width="11" height="11" fill="#000cff"/><rect x="398" y="326" width="11" height="11" fill="#0018ff"/><rect x="408" y="326" width="11" height="11" fill="#0039ff"/><rect x="418" y="326" width="11" height="11" fill="#0064ff"/><rect x="428" y="326" width="11" height="11" fill="#0096ff"/><rect x="438" y="326" width="11" height="11" fill="#00bcff"/><rect x="448" y="326" width="11" height="11" fill="#00d2ff"/><rect x="458" y="326" width="11" height="11" fill="#00ddff"/><rect x="468" y="326" width="11" height="11" fill="#00dbff"/><rect x="478" y="326" width="11" height="11" fill="#00d2ff"/><rect x="488" y="326" width="11" height="11" fill="#00c4ff"/><rect x="498" y="326" width="11" height="11" fill="#00b6ff"/><rect x="508" y="326" width="11" height="11" fill="#00b5ff"/><rect x="518" y="326" width="11" height="11" fill="#00c7ff"/><rect x="528" y="326" width="11" height="11" fill="#00daff"/><rect x="538" y="326" width="11" height="11" fill="#00e0ff"/><rect x="548" y="326" width="11" height="11" fill="#00dcff"/><rect x="558" y="326" width="11" height="11" fill="#00dbff"/><rect x="568" y="326" width="11" height="11" fill="#00dbff"/><rect x="578" y="326" width="11" height="11" fill="#00dbff"/><rect x="588" y="326" width="11" height="11" fill="#00dcff"/><rect x="58" y="336" width="11" height="11" fill="#0096ff"/><rect x="68" y="336" width="11" height="11" fill="#0095ff"/><rect x="78" y="336" width="11" height="11" fill="#0095ff"/><rect x="88" y="336" width="11" height="11" fill="#0099ff"/><rect x="98" y="336" width="11" height="11" fill="#009fff"/><rect x="108" y="336" width="11" height="11" fill="#0099ff"/><rect x="118" y="336" width="11" height="11" fill="#0082ff"/><rect x="128" y="336" width="11" height="11" fill="#0065ff"/><rect x="138" y="336" width="11" height="11" fill="#004bff"/><rect x="148" y="336" width="11" height="11" fill="#0034ff"/><rect x="158" y="336" width="11" height="11" fill="#0022ff"/><rect x="168" y="336" width="11" height="11" fill="#0013ff"/><rect x="178" y="336" width="11" height="11" fill="#0005ff"/><rect x="188" y="336" width="11" height="11" fill="#0000f6"/><rect x="198" y="336" width="11" height="11" fill="#0000ea"/><rect x="208" y="336" width="11" height="11" fill="#0000e5"/><rect x="218" y="336" width="11" height="11" fill="#0000e4"/><rect x="228" y="336" width="11" height="11" fill="#0000e4"/><rect x="238" y="336" width="11" height="11" fill="#0000e4"/><rect x="248" y="336" width="11" height="11" fill="#0000e4"/><rect x="258" y="336" width="11" height="11" fill="#0000e3"/><rect x="268" y="336" width="11" height="11" fill="#0000e3"/><rect x="278" y="336" width="11" height="11" fill="#0000e3"/><rect x="288" y="336" width="11" height="11" fill="#0000e5"/><rect x="298" y="336" width="11" height="11" fill="#0000e5"/><rect x="308" y="336" width="11" height="11" fill="#0000e4"/><rect x="318" y="336" width="11" height="11" fill="#0000e5"/><rect x="328" y="336" width="11" height="11" fill="#0000ea"/><rect x="338" y="336" width="11" height="11" fill="#0000f6"/><rect x="348" y="336" width="11" height="11" fill="#000fff"/><rect x="358" y="336" width="11" height="11" fill="#0030ff"/><rect x="368" y="336" width="11" height="11" fill="#003cff"/><rect x="378" y="336" width="11" height="11" fill="#0030ff"/><rect x="388" y="336" width="11" height="11" fill="#0027ff"/><rect x="398" y="336" width="11" height="11" fill="#0032ff"/><rect x="408" y="336" width="11" height="11" fill="#004cff"/><rect x="418" y="336" width="11" height="11" fill="#006eff"/><rect x="428" y="336" width="11" height="11" fill="#0094ff"/><rect x="438" y="336" width="11" height="11" fill="#00b2ff"/><rect x="448" y="336" width="11" height="11" fill="#00c4ff"/><rect x="458" y="336" width="11" height="11" fill="#00cdff"/><rect x="468" y="336" width="11" height="11" fill="#00d1ff"/><rect x="478" y="336" width="11" height="11" fill="#00ceff"/><rect x="488" y="336" width="11" height="11" fill="#00c7ff"/><rect x="498" y="336" width="11" height="11" fill="#00bcff"/><rect x="508" y="336" width="11" height="11" fill="#00bcff"/><rect x="518" y="336" width="11" height="11" fill="#00cbff"/><rect x="528" y="336" width="11" height="11" fill="#00dbff"/><rect x="538" y="336" width="11" height="11" fill="#00e0ff"/><rect x="548" y="336" width="11" height="11" fill="#00ddff"/><rect x="558" y="336" width="11" height="11" fill="#00dcff"/><rect x="568" y="336" width="11" height="11" fill="#00dcff"/><rect x="578" y="336" width="11" height="11" fill="#00dcff"/><rect x="588" y="336" width="11" height="11" fill="#00dcff"/><rect x="58" y="346" width="11" height="11" fill="#0092ff"/><rect x="68" y="346" width="11" height="11" fill="#0091ff"/><rect x="78" y="346" width="11" height="11" fill="#0091ff"/><rect x="88" y="346" width="11" height="11" fill="#0093ff"/><rect x="98" y="346" width="11" height="11" fill="#0095ff"/><rect x="108" y="346" width="11" height="11" fill="#0092ff"/><rect x="118" y="346" width="11" height="11" fill="#0089ff"/><rect x="128" y="346" width="11" height="11" fill="#007aff"/><rect x="138" y="346" width="11" height="11" fill="#0066ff"/><rect x="148" y="346" width="11" height="11" fill="#004eff"/><rect x="158" y="346" width="11" height="11" fill="#0037ff"/><rect x="168" y="346" width="11" height="11" fill="#0021ff"/><rect x="178" y="346" width="11" height="11" fill="#000eff"/><rect x="188" y="346" width="11" height="11" fill="#0001ff"/><rect x="198" y="346" width="11" height="11" fill="#0000f5"/><rect x="208" y="346" width="11" height="11" fill="#0000ee"/><rect x="218" y="346" width="11" height="11" fill="#0000e9"/><rect x="228" y="346" width="11" height="11" fill="#0000e7"/><rect x="238" y="346" width="11" height="11" fill="#0000e7"/><rect x="248" y="346" width="11" height="11" fill="#0000e7"/><rect x="258" y="346" width="11" height="11" fill="#0000e6"/><rect x="268" y="346" width="11" height="11" fill="#0000e5"/><rect x="278" y="346" width="11" height="11" fill="#0000e6"/><rect x="288" y="346" width="11" height="11" fill="#0000e8"/><rect x="298" y="346" width="11" height="11" fill="#0000e8"/><rect x="308" y="346" width="11" height="11" fill="#0000e6"/><rect x="318" y="346" width="11" height="11" fill="#0000e9"/><rect x="328" y="346" width="11" height="11" fill="#0000f2"/><rect x="338" y="346" width="11" height="11" fill="#0002ff"/><rect x="348" y="346" width="11" height="11" fill="#0018ff"/><rect x="358" y="346" width="11" height="11" fill="#0032ff"/><rect x="368" y="346" width="11" height="11" fill="#0046ff"/><rect x="378" y="346" width="11" height="11" fill="#0051ff"/><rect x="388" y="346" width="11" height="11" fill="#0056ff"/><rect x="398" y="346" width="11" height="11" fill="#0058ff"/><rect x="408" y="346" width="11" height="11" fill="#005cff"/><rect x="418" y="346" width="11" height="11" fill="#006dff"/><rect x="428" y="346" width="11" height="11" fill="#0089ff"/><rect x="438" y="346" width="11" height="11" fill="#009fff"/><rect x="448" y="346" width="11" height="11" fill="#00acff"/><rect x="458" y="346" width="11" height="11" fill="#00b5ff"/><rect x="468" y="346" width="11" height="11" fill="#00bfff"/><rect x="478" y="346" width="11" height="11" fill="#00c9ff"/><rect x="488" y="346" width="11" height="11" fill="#00d0ff"/><rect x="498" y="346" width="11" height="11" fill="#00d3ff"/><rect x="508" y="346" width="11" height="11" fill="#00d6ff"/><rect x="518" y="346" width="11" height="11" fill="#00daff"/><rect x="528" y="346" width="11" height="11" fill="#00ddff"/><rect x="538" y="346" width="11" height="11" fill="#00ddff"/><rect x="548" y="346" width="11" height="11" fill="#00ddff"/><rect x="558" y="346" width="11" height="11" fill="#00ddff"/><rect x="568" y="346" width="11" height="11" fill="#00ddff"/><rect x="578" y="346" width="11" height="11" fill="#00ddff"/><rect x="588" y="346" width="11" height="11" fill="#00ddff"/><rect x="58" y="356" width="11" height="11" fill="#008aff"/><rect x="68" y="356" width="11" height="11" fill="#008aff"/><rect x="78" y="356" width="11" height="11" fill="#008aff"/><rect x="88" y="356" width="11" height="11" fill="#0089ff"/><rect x="98" y="356" width="11" height="11" fill="#0088ff"/><rect x="108" y="356" width="11" height="11" fill="#0089ff"/><rect x="118" y="356" width="11" height="11" fill="#008cff"/><rect x="128" y="356" width="11" height="11" fill="#008aff"/><rect x="138" y="356" width="11" height="11" fill="#007dff"/><rect x="148" y="356" width="11" height="11" fill="#0067ff"/><rect x="158" y="356" width="11" height="11" fill="#0051ff"/><rect x="168" y="356" width="11" height="11" fill="#003aff"/><rect x="178" y="356" width="11" height="11" fill="#0029ff"/><rect x="188" y="356" width="11" height="11" fill="#001fff"/><rect x="198" y="356" width="11" height="11" fill="#0018ff"/><rect x="208" y="356" width="11" height="11" fill="#0010ff"/><rect x="218" y="356" width="11" height="11" fill="#0006ff"/><rect x="228" y="356" width="11" height="11" fill="#0002ff"/><rect x="238" y="356" width="11" height="11" fill="#0001ff"/><rect x="248" y="356" width="11" height="11" fill="#0003ff"/><rect x="258" y="356" width="11" height="11" fill="#0007ff"/><rect x="268" y="356" width="11" height="11" fill="#0009ff"/><rect x="278" y="356" width="11" height="11" fill="#0007ff"/><rect x="288" y="356" width="11" height="11" fill="#0002ff"/><rect x="298" y="356" width="11" height="11" fill="#0000fe"/><rect x="308" y="356" width="11" height="11" fill="#0000fd"/><rect x="318" y="356" width="11" height="11" fill="#0001ff"/><rect x="328" y="356" width="11" height="11" fill="#0009ff"/><rect x="338" y="356" width="11" height="11" fill="#0015ff"/><rect x="348" y="356" width="11" height="11" fill="#0024ff"/><rect x="358" y="356" width="11" height="11" fill="#0036ff"/><rect x="368" y="356" width="11" height="11" fill="#004cff"/><rect x="378" y="356" width="11" height="11" fill="#0066ff"/><rect x="388" y="356" width="11" height="11" fill="#0076ff"/><rect x="398" y="356" width="11" height="11" fill="#0074ff"/><rect x="408" y="356" width="11" height="11" fill="#006cff"/><rect x="418" y="356" width="11" height="11" fill="#0076ff"/><rect x="428" y="356" width="11" height="11" fill="#008eff"/><rect x="438" y="356" width="11" height="11" fill="#00a2ff"/><rect x="448" y="356" width="11" height="11" fill="#00aeff"/><rect x="458" y="356" width="11" height="11" fill="#00b6ff"/><rect x="468" y="356" width="11" height="11" fill="#00bfff"/><rect x="478" y="356" width="11" height="11" fill="#00c7ff"/><rect x="488" y="356" width="11" height="11" fill="#00d0ff"/><rect x="498" y="356" width="11" height="11" fill="#00d9ff"/><rect x="508" y="356" width="11" height="11" fill="#00dcff"/><rect x="518" y="356" width="11" height="11" fill="#00dbff"/><rect x="528" y="356" width="11" height="11" fill="#00d7ff"/><rect x="538" y="356" width="11" height="11" fill="#00d7ff"/><rect x="548" y="356" width="11" height="11" fill="#00d7ff"/><rect x="558" y="356" width="11" height="11" fill="#00d7ff"/><rect x="568" y="356" width="11" height="11" fill="#00d7ff"/><rect x="578" y="356" width="11" height="11" fill="#00d7ff"/><rect x="588" y="356" width="11" height="11" fill="#00d7ff"/><rect x="58" y="366" width="11" height="11" fill="#0080ff"/><rect x="68" y="366" width="11" height="11" fill="#0080ff"/><rect x="78" y="366" width="11" height="11" fill="#0080ff"/><rect x="88" y="366" width="11" height="11" fill="#007fff"/><rect x="98" y="366" width="11" height="11" fill="#007dff"/><rect x="108" y="366" width="11" height="11" fill="#0081ff"/><rect x="118" y="366" width="11" height="11" fill="#008cff"/><rect x="128" y="366" width="11" height="11" fill="#0094ff"/><rect x="138" y="366" width="11" height="11" fill="#008fff"/><rect x="148" y="366" width="11" height="11" fill="#007eff"/><rect x="158" y="366" width="11" height="11" fill="#006dff"/><rect x="168" y="366" width="11" height="11" fill="#005cff"/><rect x="178" y="366" width="11" height="11" fill="#0051ff"/><rect x="188" y="366" width="11" height="11" fill="#004eff"/><rect x="198" y="366" width="11" height="11" fill="#004cff"/><rect x="208" y="366" width="11" height="11" fill="#0044ff"/><rect x="218" y="366" width="11" height="11" fill="#0037ff"/><rect x="228" y="366" width="11" height="11" fill="#0030ff"/><rect x="238" y="366" width="11" height="11" fill="#002eff"/><rect x="248" y="366" width="11" height="11" fill="#0033ff"/><rect x="258" y="366" width="11" height="11" fill="#003eff"/><rect x="268" y="366" width="11" height="11" fill="#0047ff"/><rect x="278" y="366" width="11" height="11" fill="#0041ff"/><rect x="288" y="366" width="11" height="11" fill="#0030ff"/><rect x="298" y="366" width="11" height="11" fill="#0026ff"/><rect x="308" y="366" width="11" height="11" fill="#0026ff"/><rect x="318" y="366" width="11" height="11" fill="#0029ff"/><rect x="328" y="366" width="11" height="11" fill="#002cff"/><rect x="338" y="366" width="11" height="11" fill="#002fff"/><rect x="348" y="366" width="11" height="11" fill="#0035ff"/><rect x="358" y="366" width="11" height="11" fill="#003eff"/><rect x="368" y="366" width="11" height="11" fill="#0052ff"/><rect x="378" y="366" width="11" height="11" fill="#0071ff"/><rect x="388" y="366" width="11" height="11" fill="#0087ff"/><rect x="398" y="366" width="11" height="11" fill="#0087ff"/><rect x="408" y="366" width="11" height="11" fill="#0080ff"/><rect x="418" y="366" width="11" height="11" fill="#008aff"/><rect x="428" y="366" width="11" height="11" fill="#00a5ff"/><rect x="438" y="366" width="11" height="11" fill="#00bcff"/><rect x="448" y="366" width="11" height="11" fill="#00cbff"/><rect x="458" y="366" width="11" height="11" fill="#00d1ff"/><rect x="468" y="366" width="11" height="11" fill="#00d0ff"/><rect x="478" y="366" width="11" height="11" fill="#00cbff"/><rect x="488" y="366" width="11" height="11" fill="#00caff"/><rect x="498" y="366" width="11" height="11" fill="#00cdff"/><rect x="508" y="366" width="11" height="11" fill="#00cfff"/><rect x="518" y="366" width="11" height="11" fill="#00cfff"/><rect x="528" y="366" width="11" height="11" fill="#00cdff"/><rect x="538" y="366" width="11" height="11" fill="#00cdff"/><rect x="548" y="366" width="11" height="11" fill="#00cdff"/><rect x="558" y="366" width="11" height="11" fill="#00cdff"/><rect x="568" y="366" width="11" height="11" fill="#00cdff"/><rect x="578" y="366" width="11" height="11" fill="#00cdff"/><rect x="588" y="366" width="11" height="11" fill="#00cdff"/><rect x="58" y="376" width="11" height="11" fill="#0082ff"/><rect x="68" y="376" width="11" height="11" fill="#0082ff"/><rect x="78" y="376" width="11" height="11" fill="#0083ff"/><rect x="88" y="376" width="11" height="11" fill="#0081ff"/><rect x="98" y="376" width="11" height="11" fill="#007fff"/><rect x="108" y="376" width="11" height="11" fill="#0084ff"/><rect x="118" y="376" width="11" height="11" fill="#0090ff"/><rect x="128" y="376" width="11" height="11" fill="#009bff"/><rect x="138" y="376" width="11" height="11" fill="#0097ff"/><rect x="148" y="376" width="11" height="11" fill="#008aff"/><rect x="158" y="376" width="11" height="11" fill="#007eff"/><rect x="168" y="376" width="11" height="11" fill="#0073ff"/><rect x="178" y="376" width="11" height="11" fill="#006eff"/><rect x="188" y="376" width="11" height="11" fill="#0071ff"/><rect x="198" y="376" width="11" height="11" fill="#0073ff"/><rect x="208" y="376" width="11" height="11" fill="#006dff"/><rect x="218" y="376" width="11" height="11" fill="#005fff"/><rect x="228" y="376" width="11" height="11" fill="#0057ff"/><rect x="238" y="376" width="11" height="11" fill="#0054ff"/><rect x="248" y="376" width="11" height="11" fill="#005aff"/><rect x="258" y="376" width="11" height="11" fill="#0068ff"/><rect x="268" y="376" width="11" height="11" fill="#0074ff"/><rect x="278" y="376" width="11" height="11" fill="#006dff"/><rect x="288" y="376" width="11" height="11" fill="#005aff"/><rect x="298" y="376" width="11" height="11" fill="#004eff"/><rect x="308" y="376" width="11" height="11" fill="#004fff"/><rect x="318" y="376" width="11" height="11" fill="#0051ff"/><rect x="328" y="376" width="11" height="11" fill="#004fff"/><rect x="338" y="376" width="11" height="11" fill="#004eff"/><rect x="348" y="376" width="11" height="11" fill="#004fff"/><rect x="358" y="376" width="11" height="11" fill="#0056ff"/><rect x="368" y="376" width="11" height="11" fill="#006aff"/><rect x="378" y="376" width="11" height="11" fill="#008cff"/><rect x="388" y="376" width="11" height="11" fill="#00a7ff"/><rect x="398" y="376" width="11" height="11" fill="#00adff"/><rect x="408" y="376" width="11" height="11" fill="#00a9ff"/><rect x="418" y="376" width="11" height="11" fill="#00b4ff"/><rect x="428" y="376" width="11" height="11" fill="#00cbff"/><rect x="438" y="376" width="11" height="11" fill="#00e0ff"/><rect x="448" y="376" width="11" height="11" fill="#00eeff"/><rect x="458" y="376" width="11" height="11" fill="#00f2ff"/><rect x="468" y="376" width="11" height="11" fill="#00e7ff"/><rect x="478" y="376" width="11" height="11" fill="#00d4ff"/><rect x="488" y="376" width="11" height="11" fill="#00cbff"/><rect x="498" y="376" width="11" height="11" fill="#00ccff"/><rect x="508" y="376" width="11" height="11" fill="#00cdff"/><rect x="518" y="376" width="11" height="11" fill="#00ceff"/><rect x="528" y="376" width="11" height="11" fill="#00ceff"/><rect x="538" y="376" width="11" height="11" fill="#00ceff"/><rect x="548" y="376" width="11" height="11" fill="#00ceff"/><rect x="558" y="376" width="11" height="11" fill="#00ceff"/><rect x="568" y="376" width="11" height="11" fill="#00ceff"/><rect x="578" y="376" width="11" height="11" fill="#00ceff"/><rect x="588" y="376" width="11" height="11" fill="#00ceff"/><rect x="58" y="386" width="11" height="11" fill="#0092ff"/><rect x="68" y="386" width="11" height="11" fill="#0092ff"/><rect x="78" y="386" width="11" height="11" fill="#0093ff"/><rect x="88" y="386" width="11" height="11" fill="#0092ff"/><rect x="98" y="386" width="11" height="11" fill="#0091ff"/><rect x="108" y="386" width="11" height="11" fill="#0093ff"/><rect x="118" y="386" width="11" height="11" fill="#009aff"/><rect x="128" y="386" width="11" height="11" fill="#009dff"/><rect x="138" y="386" width="11" height="11" fill="#0097ff"/><rect x="148" y="386" width="11" height="11" fill="#008bff"/><rect x="158" y="386" width="11" height="11" fill="#0081ff"/><rect x="168" y="386" width="11" height="11" fill="#007bff"/><rect x="178" y="386" width="11" height="11" fill="#007cff"/><rect x="188" y="386" width="11" height="11" fill="#0083ff"/><rect x="198" y="386" width="11" height="11" fill="#0088ff"/><rect x="208" y="386" width="11" height="11" fill="#0084ff"/><rect x="218" y="386" width="11" height="11" fill="#0079ff"/><rect x="228" y="386" width="11" height="11" fill="#0071ff"/><rect x="238" y="386" width="11" height="11" fill="#006eff"/><rect x="248" y="386" width="11" height="11" fill="#0072ff"/><rect x="258" y="386" width="11" height="11" fill="#007dff"/><rect x="268" y="386" width="11" height="11" fill="#0088ff"/><rect x="278" y="386" width="11" height="11" fill="#0087ff"/><rect x="288" y="386" width="11" height="11" fill="#007dff"/><rect x="298" y="386" width="11" height="11" fill="#0076ff"/><rect x="308" y="386" width="11" height="11" fill="#0075ff"/><rect x="318" y="386" width="11" height="11" fill="#0075ff"/><rect x="328" y="386" width="11" height="11" fill="#0072ff"/><rect x="338" y="386" width="11" height="11" fill="#0071ff"/><rect x="348" y="386" width="11" height="11" fill="#0074ff"/><rect x="358" y="386" width="11" height="11" fill="#007eff"/><rect x="368" y="386" width="11" height="11" fill="#0095ff"/><rect x="378" y="386" width="11" height="11" fill="#00bbff"/><rect x="388" y="386" width="11" height="11" fill="#00dbff"/><rect x="398" y="386" width="11" height="11" fill="#00e8ff"/><rect x="408" y="386" width="11" height="11" fill="#00ebff"/><rect x="418" y="386" width="11" height="11" fill="#00f2ff"/><rect x="428" y="386" width="11" height="11" fill="#00feff"/><rect x="438" y="386" width="11" height="11" fill="#0bfff4"/><rect x="448" y="386" width="11" height="11" fill="#15ffea"/><rect x="458" y="386" width="11" height="11" fill="#14ffeb"/><rect x="468" y="386" width="11" height="11" fill="#01fffe"/><rect x="478" y="386" width="11" height="11" fill="#00e4ff"/><rect x="488" y="386" width="11" height="11" fill="#00d7ff"/><rect x="498" y="386" width="11" height="11" fill="#00d9ff"/><rect x="508" y="386" width="11" height="11" fill="#00dbff"/><rect x="518" y="386" width="11" height="11" fill="#00dcff"/><rect x="528" y="386" width="11" height="11" fill="#00dbff"/><rect x="538" y="386" width="11" height="11" fill="#00dbff"/><rect x="548" y="386" width="11" height="11" fill="#00dbff"/><rect x="558" y="386" width="11" height="11" fill="#00dbff"/><rect x="568" y="386" width="11" height="11" fill="#00dbff"/><rect x="578" y="386" width="11" height="11" fill="#00dbff"/><rect x="588" y="386" width="11" height="11" fill="#00dbff"/><rect x="58" y="396" width="11" height="11" fill="#0099ff"/><rect x="68" y="396" width="11" height="11" fill="#0099ff"/><rect x="78" y="396" width="11" height="11" fill="#0099ff"/><rect x="88" y="396" width="11" height="11" fill="#0099ff"/><rect x="98" y="396" width="11" height="11" fill="#0098ff"/><rect x="108" y="396" width="11" height="11" fill="#0099ff"/><rect x="118" y="396" width="11" height="11" fill="#009aff"/><rect x="128" y="396" width="11" height="11" fill="#0099ff"/><rect x="138" y="396" width="11" height="11" fill="#008fff"/><rect x="148" y="396" width="11" height="11" fill="#0082ff"/><rect x="158" y="396" width="11" height="11" fill="#007bff"/><rect x="168" y="396" width="11" height="11" fill="#007cff"/><rect x="178" y="396" width="11" height="11" fill="#0081ff"/><rect x="188" y="396" width="11" height="11" fill="#0089ff"/><rect x="198" y="396" width="11" height="11" fill="#008fff"/><rect x="208" y="396" width="11" height="11" fill="#008cff"/><rect x="218" y="396" width="11" height="11" fill="#0084ff"/><rect x="228" y="396" width="11" height="11" fill="#007fff"/><rect x="238" y="396" width="11" height="11" fill="#007eff"/><rect x="248" y="396" width="11" height="11" fill="#0083ff"/><rect x="258" y="396" width="11" height="11" fill="#008eff"/><rect x="268" y="396" width="11" height="11" fill="#009bff"/><rect x="278" y="396" width="11" height="11" fill="#00a0ff"/><rect x="288" y="396" width="11" height="11" fill="#00a0ff"/><rect x="298" y="396" width="11" height="11" fill="#00a0ff"/><rect x="308" y="396" width="11" height="11" fill="#00a1ff"/><rect x="318" y="396" width="11" height="11" fill="#00a1ff"/><rect x="328" y="396" width="11" height="11" fill="#00a1ff"/><rect x="338" y="396" width="11" height="11" fill="#00a1ff"/><rect x="348" y="396" width="11" height="11" fill="#00a5ff"/><rect x="358" y="396" width="11" height="11" fill="#00adff"/><rect x="368" y="396" width="11" height="11" fill="#00c2ff"/><rect x="378" y="396" width="11" height="11" fill="#00e6ff"/><rect x="388" y="396" width="11" height="11" fill="#05fffa"/><rect x="398" y="396" width="11" height="11" fill="#11ffee"/><rect x="408" y="396" width="11" height="11" fill="#11ffee"/><rect x="418" y="396" width="11" height="11" fill="#13ffec"/><rect x="428" y="396" width="11" height="11" fill="#17ffe8"/><rect x="438" y="396" width="11" height="11" fill="#1bffe4"/><rect x="448" y="396" width="11" height="11" fill="#1effe1"/><rect x="458" y="396" width="11" height="11" fill="#18ffe7"/><rect x="468" y="396" width="11" height="11" fill="#06fff9"/><rect x="478" y="396" width="11" height="11" fill="#00edff"/><rect x="488" y="396" width="11" height="11" fill="#00e2ff"/><rect x="498" y="396" width="11" height="11" fill="#00e5ff"/><rect x="508" y="396" width="11" height="11" fill="#00e7ff"/><rect x="518" y="396" width="11" height="11" fill="#00e8ff"/><rect x="528" y="396" width="11" height="11" fill="#00e7ff"/><rect x="538" y="396" width="11" height="11" fill="#00e7ff"/><rect x="548" y="396" width="11" height="11" fill="#00e7ff"/><rect x="558" y="396" width="11" height="11" fill="#00e7ff"/><rect x="568" y="396" width="11" height="11" fill="#00e7ff"/><rect x="578" y="396" width="11" height="11" fill="#00e7ff"/><rect x="588" y="396" width="11" height="11" fill="#00e7ff"/><rect x="58" y="406" width="11" height="11" fill="#008cff"/><rect x="68" y="406" width="11" height="11" fill="#008cff"/><rect x="78" y="406" width="11" height="11" fill="#008cff"/><rect x="88" y="406" width="11" height="11" fill="#008cff"/><rect x="98" y="406" width="11" height="11" fill="#008cff"/><rect x="108" y="406" width="11" height="11" fill="#008cff"/><rect x="118" y="406" width="11" height="11" fill="#008eff"/><rect x="128" y="406" width="11" height="11" fill="#008bff"/><rect x="138" y="406" width="11" height="11" fill="#0080ff"/><rect x="148" y="406" width="11" height="11" fill="#0071ff"/><rect x="158" y="406" width="11" height="11" fill="#006eff"/><rect x="168" y="406" width="11" height="11" fill="#0077ff"/><rect x="178" y="406" width="11" height="11" fill="#0080ff"/><rect x="188" y="406" width="11" height="11" fill="#0086ff"/><rect x="198" y="406" width="11" height="11" fill="#0087ff"/><rect x="208" y="406" width="11" height="11" fill="#0086ff"/><rect x="218" y="406" width="11" height="11" fill="#0082ff"/><rect x="228" y="406" width="11" height="11" fill="#0082ff"/><rect x="238" y="406" width="11" height="11" fill="#0086ff"/><rect x="248" y="406" width="11" height="11" fill="#0090ff"/><rect x="258" y="406" width="11" height="11" fill="#00a1ff"/><rect x="268" y="406" width="11" height="11" fill="#00b4ff"/><rect x="278" y="406" width="11" height="11" fill="#00bfff"/><rect x="288" y="406" width="11" height="11" fill="#00c5ff"/><rect x="298" y="406" width="11" height="11" fill="#00cbff"/><rect x="308" y="406" width="11" height="11" fill="#00d4ff"/><rect x="318" y="406" width="11" height="11" fill="#00dbff"/><rect x="328" y="406" width="11" height="11" fill="#00e0ff"/><rect x="338" y="406" width="11" height="11" fill="#00e2ff"/><rect x="348" y="406" width="11" height="11" fill="#00e1ff"/><rect x="358" y="406" width="11" height="11" fill="#00dfff"/><rect x="368" y="406" width="11" height="11" fill="#00eaff"/><rect x="378" y="406" width="11" height="11" fill="#04fffb"/><rect x="388" y="406" width="11" height="11" fill="#16ffe9"/><rect x="398" y="406" width="11" height="11" fill="#14ffeb"/><rect x="408" y="406" width="11" height="11" fill="#07fff8"/><rect x="418" y="406" width="11" height="11" fill="#03fffc"/><rect x="428" y="406" width="11" height="11" fill="#06fff9"/><rect x="438" y="406" width="11" height="11" fill="#05fffa"/><rect x="448" y="406" width="11" height="11" fill="#00fcff"/><rect x="458" y="406" width="11" height="11" fill="#00f3ff"/><rect x="468" y="406" width="11" height="11" fill="#00edff"/><rect x="478" y="406" width="11" height="11" fill="#00ebff"/><rect x="488" y="406" width="11" height="11" fill="#00e9ff"/><rect x="498" y="406" width="11" height="11" fill="#00eaff"/><rect x="508" y="406" width="11" height="11" fill="#00eaff"/><rect x="518" y="406" width="11" height="11" fill="#00eaff"/><rect x="528" y="406" width="11" height="11" fill="#00eaff"/><rect x="538" y="406" width="11" height="11" fill="#00eaff"/><rect x="548" y="406" width="11" height="11" fill="#00eaff"/><rect x="558" y="406" width="11" height="11" fill="#00eaff"/><rect x="568" y="406" width="11" height="11" fill="#00eaff"/><rect x="578" y="406" width="11" height="11" fill="#00eaff"/><rect x="588" y="406" width="11" height="11" fill="#00eaff"/><rect x="58" y="416" width="11" height="11" fill="#0080ff"/><rect x="68" y="416" width="11" height="11" fill="#0080ff"/><rect x="78" y="416" width="11" height="11" fill="#0080ff"/><rect x="88" y="416" width="11" height="11" fill="#0080ff"/><rect x="98" y="416" width="11" height="11" fill="#007fff"/><rect x="108" y="416" width="11" height="11" fill="#0080ff"/><rect x="118" y="416" width="11" height="11" fill="#0082ff"/><rect x="128" y="416" width="11" height="11" fill="#0081ff"/><rect x="138" y="416" width="11" height="11" fill="#0076ff"/><rect x="148" y="416" width="11" height="11" fill="#0068ff"/><rect x="158" y="416" width="11" height="11" fill="#0068ff"/><rect x="168" y="416" width="11" height="11" fill="#0075ff"/><rect x="178" y="416" width="11" height="11" fill="#0080ff"/><rect x="188" y="416" width="11" height="11" fill="#0082ff"/><rect x="198" y="416" width="11" height="11" fill="#0080ff"/><rect x="208" y="416" width="11" height="11" fill="#007eff"/><rect x="218" y="416" width="11" height="11" fill="#007eff"/><rect x="228" y="416" width="11" height="11" fill="#0082ff"/><rect x="238" y="416" width="11" height="11" fill="#008bff"/><rect x="248" y="416" width="11" height="11" fill="#009aff"/><rect x="258" y="416" width="11" height="11" fill="#00b0ff"/><rect x="268" y="416" width="11" height="11" fill="#00c7ff"/><rect x="278" y="416" width="11" height="11" fill="#00d6ff"/><rect x="288" y="416" width="11" height="11" fill="#00dfff"/><rect x="298" y="416" width="11" height="11" fill="#00e9ff"/><rect x="308" y="416" width="11" height="11" fill="#00f4ff"/><rect x="318" y="416" width="11" height="11" fill="#00ffff"/><rect x="328" y="416" width="11" height="11" fill="#09fff6"/><rect x="338" y="416" width="11" height="11" fill="#0ffff0"/><rect x="348" y="416" width="11" height="11" fill="#0bfff4"/><rect x="358" y="416" width="11" height="11" fill="#01fffe"/><rect x="368" y="416" width="11" height="11" fill="#01fffe"/><rect x="378" y="416" width="11" height="11" fill="#0cfff3"/><rect x="388" y="416" width="11" height="11" fill="#10ffef"/><rect x="398" y="416" width="11" height="11" fill="#02fffd"/><rect x="408" y="416" width="11" height="11" fill="#00ebff"/><rect x="418" y="416" width="11" height="11" fill="#00e3ff"/><rect x="428" y="416" width="11" height="11" fill="#00e8ff"/><rect x="438" y="416" width="11" height="11" fill="#00e5ff"/><rect x="448" y="416" width="11" height="11" fill="#00d6ff"/><rect x="458" y="416" width="11" height="11" fill="#00cdff"/><rect x="468" y="416" width="11" height="11" fill="#00d3ff"/><rect x="478" y="416" width="11" height="11" fill="#00e2ff"/><rect x="488" y="416" width="11" height="11" fill="#00e9ff"/><rect x="498" y="416" width="11" height="11" fill="#00e7ff"/><rect x="508" y="416" width="11" height="11" fill="#00e6ff"/><rect x="518" y="416" width="11" height="11" fill="#00e5ff"/><rect x="528" y="416" width="11" height="11" fill="#00e6ff"/><rect x="538" y="416" width="11" height="11" fill="#00e6ff"/><rect x="548" y="416" width="11" height="11" fill="#00e6ff"/><rect x="558" y="416" width="11" height="11" fill="#00e6ff"/><rect x="568" y="416" width="11" height="11" fill="#00e6ff"/><rect x="578" y="416" width="11" height="11" fill="#00e6ff"/><rect x="588" y="416" width="11" height="11" fill="#00e6ff"/><rect x="58" y="426" width="11" height="11" fill="#0082ff"/><rect x="68" y="426" width="11" height="11" fill="#0082ff"/><rect x="78" y="426" width="11" height="11" fill="#0082ff"/><rect x="88" y="426" width="11" height="11" fill="#0082ff"/><rect x="98" y="426" width="11" height="11" fill="#0081ff"/><rect x="108" y="426" width="11" height="11" fill="#0082ff"/><rect x="118" y="426" width="11" height="11" fill="#0083ff"/><rect x="128" y="426" width="11" height="11" fill="#0083ff"/><rect x="138" y="426" width="11" height="11" fill="#007dff"/><rect x="148" y="426" width="11" height="11" fill="#0074ff"/><rect x="158" y="426" width="11" height="11" fill="#0075ff"/><rect x="168" y="426" width="11" height="11" fill="#007eff"/><rect x="178" y="426" width="11" height="11" fill="#0085ff"/><rect x="188" y="426" width="11" height="11" fill="#0086ff"/><rect x="198" y="426" width="11" height="11" fill="#0083ff"/><rect x="208" y="426" width="11" height="11" fill="#0082ff"/><rect x="218" y="426" width="11" height="11" fill="#0082ff"/><rect x="228" y="426" width="11" height="11" fill="#0087ff"/><rect x="238" y="426" width="11" height="11" fill="#0092ff"/><rect x="248" y="426" width="11" height="11" fill="#00a1ff"/><rect x="258" y="426" width="11" height="11" fill="#00b4ff"/><rect x="268" y="426" width="11" height="11" fill="#00c8ff"/><rect x="278" y="426" width="11" height="11" fill="#00d8ff"/><rect x="288" y="426" width="11" height="11" fill="#00e5ff"/><rect x="298" y="426" width="11" height="11" fill="#00ecff"/><rect x="308" y="426" width="11" height="11" fill="#00edff"/><rect x="318" y="426" width="11" height="11" fill="#00f1ff"/><rect x="328" y="426" width="11" height="11" fill="#00fbff"/><rect x="338" y="426" width="11" height="11" fill="#07fff8"/><rect x="348" y="426" width="11" height="11" fill="#08fff7"/><rect x="358" y="426" width="11" height="11" fill="#01fffe"/><rect x="368" y="426" width="11" height="11" fill="#00fbff"/><rect x="378" y="426" width="11" height="11" fill="#00f9ff"/><rect x="388" y="426" width="11" height="11" fill="#00f3ff"/><rect x="398" y="426" width="11" height="11" fill="#00e7ff"/><rect x="408" y="426" width="11" height="11" fill="#00d8ff"/><rect x="418" y="426" width="11" height="11" fill="#00d3ff"/><rect x="428" y="426" width="11" height="11" fill="#00d6ff"/><rect x="438" y="426" width="11" height="11" fill="#00d3ff"/><rect x="448" y="426" width="11" height="11" fill="#00caff"/><rect x="458" y="426" width="11" height="11" fill="#00c4ff"/><rect x="468" y="426" width="11" height="11" fill="#00caff"/><rect x="478" y="426" width="11" height="11" fill="#00d7ff"/><rect x="488" y="426" width="11" height="11" fill="#00ddff"/><rect x="498" y="426" width="11" height="11" fill="#00dcff"/><rect x="508" y="426" width="11" height="11" fill="#00daff"/><rect x="518" y="426" width="11" height="11" fill="#00daff"/><rect x="528" y="426" width="11" height="11" fill="#00dbff"/><rect x="538" y="426" width="11" height="11" fill="#00dbff"/><rect x="548" y="426" width="11" height="11" fill="#00dbff"/><rect x="558" y="426" width="11" height="11" fill="#00dbff"/><rect x="568" y="426" width="11" height="11" fill="#00dbff"/><rect x="578" y="426" width="11" height="11" fill="#00dbff"/><rect x="588" y="426" width="11" height="11" fill="#00dbff"/><rect x="58" y="436" width="11" height="11" fill="#0092ff"/><rect x="68" y="436" width="11" height="11" fill="#0092ff"/><rect x="78" y="436" width="11" height="11" fill="#0092ff"/><rect x="88" y="436" width="11" height="11" fill="#0092ff"/><rect x="98" y="436" width="11" height="11" fill="#0092ff"/><rect x="108" y="436" width="11" height="11" fill="#0092ff"/><rect x="118" y="436" width="11" height="11" fill="#0093ff"/><rect x="128" y="436" width="11" height="11" fill="#0093ff"/><rect x="138" y="436" width="11" height="11" fill="#0092ff"/><rect x="148" y="436" width="11" height="11" fill="#0091ff"/><rect x="158" y="436" width="11" height="11" fill="#0091ff"/><rect x="168" y="436" width="11" height="11" fill="#0092ff"/><rect x="178" y="436" width="11" height="11" fill="#0093ff"/><rect x="188" y="436" width="11" height="11" fill="#0093ff"/><rect x="198" y="436" width="11" height="11" fill="#0093ff"/><rect x="208" y="436" width="11" height="11" fill="#0092ff"/><rect x="218" y="436" width="11" height="11" fill="#0091ff"/><rect x="228" y="436" width="11" height="11" fill="#0096ff"/><rect x="238" y="436" width="11" height="11" fill="#00a1ff"/><rect x="248" y="436" width="11" height="11" fill="#00aeff"/><rect x="258" y="436" width="11" height="11" fill="#00baff"/><rect x="268" y="436" width="11" height="11" fill="#00c6ff"/><rect x="278" y="436" width="11" height="11" fill="#00d4ff"/><rect x="288" y="436" width="11" height="11" fill="#00e3ff"/><rect x="298" y="436" width="11" height="11" fill="#00e4ff"/><rect x="308" y="436" width="11" height="11" fill="#00d7ff"/><rect x="318" y="436" width="11" height="11" fill="#00d0ff"/><rect x="328" y="436" width="11" height="11" fill="#00d8ff"/><rect x="338" y="436" width="11" height="11" fill="#00e7ff"/><rect x="348" y="436" width="11" height="11" fill="#00eeff"/><rect x="358" y="436" width="11" height="11" fill="#00edff"/><rect x="368" y="436" width="11" height="11" fill="#00e7ff"/><rect x="378" y="436" width="11" height="11" fill="#00dbff"/><rect x="388" y="436" width="11" height="11" fill="#00d1ff"/><rect x="398" y="436" width="11" height="11" fill="#00cdff"/><rect x="408" y="436" width="11" height="11" fill="#00cdff"/><rect x="418" y="436" width="11" height="11" fill="#00cdff"/><rect x="428" y="436" width="11" height="11" fill="#00cdff"/><rect x="438" y="436" width="11" height="11" fill="#00cdff"/><rect x="448" y="436" width="11" height="11" fill="#00ccff"/><rect x="458" y="436" width="11" height="11" fill="#00cbff"/><rect x="468" y="436" width="11" height="11" fill="#00ccff"/><rect x="478" y="436" width="11" height="11" fill="#00cdff"/><rect x="488" y="436" width="11" height="11" fill="#00ceff"/><rect x="498" y="436" width="11" height="11" fill="#00ceff"/><rect x="508" y="436" width="11" height="11" fill="#00ceff"/><rect x="518" y="436" width="11" height="11" fill="#00ceff"/><rect x="528" y="436" width="11" height="11" fill="#00ceff"/><rect x="538" y="436" width="11" height="11" fill="#00ceff"/><rect x="548" y="436" width="11" height="11" fill="#00ceff"/><rect x="558" y="436" width="11" height="11" fill="#00ceff"/><rect x="568" y="436" width="11" height="11" fill="#00ceff"/><rect x="578" y="436" width="11" height="11" fill="#00ceff"/><rect x="588" y="436" width="11" height="11" fill="#00ceff"/><rect x="58" y="446" width="11" height="11" fill="#00b3ff"/><rect x="68" y="446" width="11" height="11" fill="#00b3ff"/><rect x="78" y="446" width="11" height="11" fill="#00b3ff"/><rect x="88" y="446" width="11" height="11" fill="#00b3ff"/><rect x="98" y="446" width="11" height="11" fill="#00b3ff"/><rect x="108" y="446" width="11" height="11" fill="#00b3ff"/><rect x="118" y="446" width="11" height="11" fill="#00b3ff"/><rect x="128" y="446" width="11" height="11" fill="#00b3ff"/><rect x="138" y="446" width="11" height="11" fill="#00b4ff"/><rect x="148" y="446" width="11" height="11" fill="#00b5ff"/><rect x="158" y="446" width="11" height="11" fill="#00b5ff"/><rect x="168" y="446" width="11" height="11" fill="#00b3ff"/><rect x="178" y="446" width="11" height="11" fill="#00b2ff"/><rect x="188" y="446" width="11" height="11" fill="#00b3ff"/><rect x="198" y="446" width="11" height="11" fill="#00b3ff"/><rect x="208" y="446" width="11" height="11" fill="#00b2ff"/><rect x="218" y="446" width="11" height="11" fill="#00b0ff"/><rect x="228" y="446" width="11" height="11" fill="#00b6ff"/><rect x="238" y="446" width="11" height="11" fill="#00c1ff"/><rect x="248" y="446" width="11" height="11" fill="#00ccff"/><rect x="258" y="446" width="11" height="11" fill="#00d3ff"/><rect x="268" y="446" width="11" height="11" fill="#00d8ff"/><rect x="278" y="446" width="11" height="11" fill="#00e2ff"/><rect x="288" y="446" width="11" height="11" fill="#00ecff"/><rect x="298" y="446" width="11" height="11" fill="#00e9ff"/><rect x="308" y="446" width="11" height="11" fill="#00d8ff"/><rect x="318" y="446" width="11" height="11" fill="#00cdff"/><rect x="328" y="446" width="11" height="11" fill="#00d1ff"/><rect x="338" y="446" width="11" height="11" fill="#00ddff"/><rect x="348" y="446" width="11" height="11" fill="#00e2ff"/><rect x="358" y="446" width="11" height="11" fill="#00dfff"/><rect x="368" y="446" width="11" height="11" fill="#00d7ff"/><rect x="378" y="446" width="11" height="11" fill="#00cdff"/><rect x="388" y="446" width="11" height="11" fill="#00c5ff"/><rect x="398" y="446" width="11" height="11" fill="#00c5ff"/><rect x="408" y="446" width="11" height="11" fill="#00c9ff"/><rect x="418" y="446" width="11" height="11" fill="#00cbff"/><rect x="428" y="446" width="11" height="11" fill="#00caff"/><rect x="438" y="446" width="11" height="11" fill="#00cbff"/><rect x="448" y="446" width="11" height="11" fill="#00ccff"/><rect x="458" y="446" width="11" height="11" fill="#00cdff"/><rect x="468" y="446" width="11" height="11" fill="#00ccff"/><rect x="478" y="446" width="11" height="11" fill="#00caff"/><rect x="488" y="446" width="11" height="11" fill="#00c9ff"/><rect x="498" y="446" width="11" height="11" fill="#00c9ff"/><rect x="508" y="446" width="11" height="11" fill="#00c9ff"/><rect x="518" y="446" width="11" height="11" fill="#00caff"/><rect x="528" y="446" width="11" height="11" fill="#00c9ff"/><rect x="538" y="446" width="11" height="11" fill="#00c9ff"/><rect x="548" y="446" width="11" height="11" fill="#00c9ff"/><rect x="558" y="446" width="11" height="11" fill="#00c9ff"/><rect x="568" y="446" width="11" height="11" fill="#00c9ff"/><rect x="578" y="446" width="11" height="11" fill="#00c9ff"/><rect x="588" y="446" width="11" height="11" fill="#00c9ff"/><rect x="58" y="456" width="11" height="11" fill="#00daff"/><rect x="68" y="456" width="11" height="11" fill="#00daff"/><rect x="78" y="456" width="11" height="11" fill="#00daff"/><rect x="88" y="456" width="11" height="11" fill="#00daff"/><rect x="98" y="456" width="11" height="11" fill="#00daff"/><rect x="108" y="456" width="11" height="11" fill="#00daff"/><rect x="118" y="456" width="11" height="11" fill="#00daff"/><rect x="128" y="456" width="11" height="11" fill="#00daff"/><rect x="138" y="456" width="11" height="11" fill="#00dbff"/><rect x="148" y="456" width="11" height="11" fill="#00dbff"/><rect x="158" y="456" width="11" height="11" fill="#00dbff"/><rect x="168" y="456" width="11" height="11" fill="#00dbff"/><rect x="178" y="456" width="11" height="11" fill="#00daff"/><rect x="188" y="456" width="11" height="11" fill="#00dbff"/><rect x="198" y="456" width="11" height="11" fill="#00dbff"/><rect x="208" y="456" width="11" height="11" fill="#00d9ff"/><rect x="218" y="456" width="11" height="11" fill="#00d8ff"/><rect x="228" y="456" width="11" height="11" fill="#00deff"/><rect x="238" y="456" width="11" height="11" fill="#00eaff"/><rect x="248" y="456" width="11" height="11" fill="#00f4ff"/><rect x="258" y="456" width="11" height="11" fill="#00f7ff"/><rect x="268" y="456" width="11" height="11" fill="#00f6ff"/><rect x="278" y="456" width="11" height="11" fill="#00f9ff"/><rect x="288" y="456" width="11" height="11" fill="#00fdff"/><rect x="298" y="456" width="11" height="11" fill="#00f8ff"/><rect x="308" y="456" width="11" height="11" fill="#00eaff"/><rect x="318" y="456" width="11" height="11" fill="#00e0ff"/><rect x="328" y="456" width="11" height="11" fill="#00e0ff"/><rect x="338" y="456" width="11" height="11" fill="#00e4ff"/><rect x="348" y="456" width="11" height="11" fill="#00e0ff"/><rect x="358" y="456" width="11" height="11" fill="#00d5ff"/><rect x="368" y="456" width="11" height="11" fill="#00cdff"/><rect x="378" y="456" width="11" height="11" fill="#00caff"/><rect x="388" y="456" width="11" height="11" fill="#00caff"/><rect x="398" y="456" width="11" height="11" fill="#00cbff"/><rect x="408" y="456" width="11" height="11" fill="#00cbff"/><rect x="418" y="456" width="11" height="11" fill="#00ccff"/><rect x="428" y="456" width="11" height="11" fill="#00ccff"/><rect x="438" y="456" width="11" height="11" fill="#00ccff"/><rect x="448" y="456" width="11" height="11" fill="#00ccff"/><rect x="458" y="456" width="11" height="11" fill="#00ccff"/><rect x="468" y="456" width="11" height="11" fill="#00ccff"/><rect x="478" y="456" width="11" height="11" fill="#00cbff"/><rect x="488" y="456" width="11" height="11" fill="#00cbff"/><rect x="498" y="456" width="11" height="11" fill="#00cbff"/><rect x="508" y="456" width="11" height="11" fill="#00cbff"/><rect x="518" y="456" width="11" height="11" fill="#00cbff"/><rect x="528" y="456" width="11" height="11" fill="#00cbff"/><rect x="538" y="456" width="11" height="11" fill="#00cbff"/><rect x="548" y="456" width="11" height="11" fill="#00cbff"/><rect x="558" y="456" width="11" height="11" fill="#00cbff"/><rect x="568" y="456" width="11" height="11" fill="#00cbff"/><rect x="578" y="456" width="11" height="11" fill="#00cbff"/><rect x="588" y="456" width="11" height="11" fill="#00cbff"/><rect x="58" y="466" width="11" height="11" fill="#00ecff"/><rect x="68" y="466" width="11" height="11" fill="#00ecff"/><rect x="78" y="466" width="11" height="11" fill="#00ecff"/><rect x="88" y="466" width="11" height="11" fill="#00ecff"/><rect x="98" y="466" width="11" height="11" fill="#00ecff"/><rect x="108" y="466" width="11" height="11" fill="#00ecff"/><rect x="118" y="466" width="11" height="11" fill="#00ecff"/><rect x="128" y="466" width="11" height="11" fill="#00ecff"/><rect x="138" y="466" width="11" height="11" fill="#00ecff"/><rect x="148" y="466" width="11" height="11" fill="#00ecff"/><rect x="158" y="466" width="11" height="11" fill="#00ecff"/><rect x="168" y="466" width="11" height="11" fill="#00ecff"/><rect x="178" y="466" width="11" height="11" fill="#00ecff"/><rect x="188" y="466" width="11" height="11" fill="#00edff"/><rect x="198" y="466" width="11" height="11" fill="#00ecff"/><rect x="208" y="466" width="11" height="11" fill="#00ebff"/><rect x="218" y="466" width="11" height="11" fill="#00eaff"/><rect x="228" y="466" width="11" height="11" fill="#00f0ff"/><rect x="238" y="466" width="11" height="11" fill="#00fdff"/><rect x="248" y="466" width="11" height="11" fill="#07fff8"/><rect x="258" y="466" width="11" height="11" fill="#08fff7"/><rect x="268" y="466" width="11" height="11" fill="#05fffa"/><rect x="278" y="466" width="11" height="11" fill="#05fffa"/><rect x="288" y="466" width="11" height="11" fill="#05fffa"/><rect x="298" y="466" width="11" height="11" fill="#00ffff"/><rect x="308" y="466" width="11" height="11" fill="#00f2ff"/><rect x="318" y="466" width="11" height="11" fill="#00e9ff"/><rect x="328" y="466" width="11" height="11" fill="#00e8ff"/><rect x="338" y="466" width="11" height="11" fill="#00e8ff"/><rect x="348" y="466" width="11" height="11" fill="#00e0ff"/><rect x="358" y="466" width="11" height="11" fill="#00d1ff"/><rect x="368" y="466" width="11" height="11" fill="#00c9ff"/><rect x="378" y="466" width="11" height="11" fill="#00caff"/><rect x="388" y="466" width="11" height="11" fill="#00cdff"/><rect x="398" y="466" width="11" height="11" fill="#00ceff"/><rect x="408" y="466" width="11" height="11" fill="#00ccff"/><rect x="418" y="466" width="11" height="11" fill="#00ccff"/><rect x="428" y="466" width="11" height="11" fill="#00ccff"/><rect x="438" y="466" width="11" height="11" fill="#00ccff"/><rect x="448" y="466" width="11" height="11" fill="#00ccff"/><rect x="458" y="466" width="11" height="11" fill="#00ccff"/><rect x="468" y="466" width="11" height="11" fill="#00ccff"/><rect x="478" y="466" width="11" height="11" fill="#00ccff"/><rect x="488" y="466" width="11" height="11" fill="#00ccff"/><rect x="498" y="466" width="11" height="11" fill="#00ccff"/><rect x="508" y="466" width="11" height="11" fill="#00ccff"/><rect x="518" y="466" width="11" height="11" fill="#00ccff"/><rect x="528" y="466" width="11" height="11" fill="#00ccff"/><rect x="538" y="466" width="11" height="11" fill="#00ccff"/><rect x="548" y="466" width="11" height="11" fill="#00ccff"/><rect x="558" y="466" width="11" height="11" fill="#00ccff"/><rect x="568" y="466" width="11" height="11" fill="#00ccff"/><rect x="578" y="466" width="11" height="11" fill="#00ccff"/><rect x="588" y="466" width="11" height="11" fill="#00ccff"/><rect x="58" y="476" width="11" height="11" fill="#00e9ff"/><rect x="68" y="476" width="11" height="11" fill="#00e9ff"/><rect x="78" y="476" width="11" height="11" fill="#00e9ff"/><rect x="88" y="476" width="11" height="11" fill="#00e9ff"/><rect x="98" y="476" width="11" height="11" fill="#00e9ff"/><rect x="108" y="476" width="11" height="11" fill="#00e9ff"/><rect x="118" y="476" width="11" height="11" fill="#00e9ff"/><rect x="128" y="476" width="11" height="11" fill="#00e9ff"/><rect x="138" y="476" width="11" height="11" fill="#00e8ff"/><rect x="148" y="476" width="11" height="11" fill="#00e8ff"/><rect x="158" y="476" width="11" height="11" fill="#00e8ff"/><rect x="168" y="476" width="11" height="11" fill="#00e8ff"/><rect x="178" y="476" width="11" height="11" fill="#00e9ff"/><rect x="188" y="476" width="11" height="11" fill="#00e9ff"/><rect x="198" y="476" width="11" height="11" fill="#00e9ff"/><rect x="208" y="476" width="11" height="11" fill="#00e7ff"/><rect x="218" y="476" width="11" height="11" fill="#00e6ff"/><rect x="228" y="476" width="11" height="11" fill="#00ecff"/><rect x="238" y="476" width="11" height="11" fill="#00f9ff"/><rect x="248" y="476" width="11" height="11" fill="#04fffb"/><rect x="258" y="476" width="11" height="11" fill="#05fffa"/><rect x="268" y="476" width="11" height="11" fill="#02fffd"/><rect x="278" y="476" width="11" height="11" fill="#03fffc"/><rect x="288" y="476" width="11" height="11" fill="#04fffb"/><rect x="298" y="476" width="11" height="11" fill="#00fdff"/><rect x="308" y="476" width="11" height="11" fill="#00f0ff"/><rect x="318" y="476" width="11" height="11" fill="#00e7ff"/><rect x="328" y="476" width="11" height="11" fill="#00e6ff"/><rect x="338" y="476" width="11" height="11" fill="#00e7ff"/><rect x="348" y="476" width="11" height="11" fill="#00e0ff"/><rect x="358" y="476" width="11" height="11" fill="#00d1ff"/><rect x="368" y="476" width="11" height="11" fill="#00caff"/><rect x="378" y="476" width="11" height="11" fill="#00caff"/><rect x="388" y="476" width="11" height="11" fill="#00ccff"/><rect x="398" y="476" width="11" height="11" fill="#00cdff"/><rect x="408" y="476" width="11" height="11" fill="#00ccff"/><rect x="418" y="476" width="11" height="11" fill="#00ccff"/><rect x="428" y="476" width="11" height="11" fill="#00ccff"/><rect x="438" y="476" width="11" height="11" fill="#00ccff"/><rect x="448" y="476" width="11" height="11" fill="#00ccff"/><rect x="458" y="476" width="11" height="11" fill="#00ccff"/><rect x="468" y="476" width="11" height="11" fill="#00ccff"/><rect x="478" y="476" width="11" height="11" fill="#00ccff"/><rect x="488" y="476" width="11" height="11" fill="#00ccff"/><rect x="498" y="476" width="11" height="11" fill="#00ccff"/><rect x="508" y="476" width="11" height="11" fill="#00ccff"/><rect x="518" y="476" width="11" height="11" fill="#00ccff"/><rect x="528" y="476" width="11" height="11" fill="#00ccff"/><rect x="538" y="476" width="11" height="11" fill="#00ccff"/><rect x="548" y="476" width="11" height="11" fill="#00ccff"/><rect x="558" y="476" width="11" height="11" fill="#00ccff"/><rect x="568" y="476" width="11" height="11" fill="#00ccff"/><rect x="578" y="476" width="11" height="11" fill="#00ccff"/><rect x="588" y="476" width="11" height="11" fill="#00ccff"/><rect x="58" y="486" width="11" height="11" fill="#00e5ff"/><rect x="68" y="486" width="11" height="11" fill="#00e5ff"/><rect x="78" y="486" width="11" height="11" fill="#00e5ff"/><rect x="88" y="486" width="11" height="11" fill="#00e5ff"/><rect x="98" y="486" width="11" height="11" fill="#00e5ff"/><rect x="108" y="486" width="11" height="11" fill="#00e5ff"/><rect x="118" y="486" width="11" height="11" fill="#00e5ff"/><rect x="128" y="486" width="11" height="11" fill="#00e5ff"/><rect x="138" y="486" width="11" height="11" fill="#00e5ff"/><rect x="148" y="486" width="11" height="11" fill="#00e5ff"/><rect x="158" y="486" width="11" height="11" fill="#00e5ff"/><rect x="168" y="486" width="11" height="11" fill="#00e5ff"/><rect x="178" y="486" width="11" height="11" fill="#00e5ff"/><rect x="188" y="486" width="11" height="11" fill="#00e5ff"/><rect x="198" y="486" width="11" height="11" fill="#00e5ff"/><rect x="208" y="486" width="11" height="11" fill="#00e3ff"/><rect x="218" y="486" width="11" height="11" fill="#00e2ff"/><rect x="228" y="486" width="11" height="11" fill="#00e8ff"/><rect x="238" y="486" width="11" height="11" fill="#00f5ff"/><rect x="248" y="486" width="11" height="11" fill="#00ffff"/><rect x="258" y="486" width="11" height="11" fill="#01fffe"/><rect x="268" y="486" width="11" height="11" fill="#00feff"/><rect x="278" y="486" width="11" height="11" fill="#00ffff"/><rect x="288" y="486" width="11" height="11" fill="#02fffd"/><rect x="298" y="486" width="11" height="11" fill="#00fcff"/><rect x="308" y="486" width="11" height="11" fill="#00efff"/><rect x="318" y="486" width="11" height="11" fill="#00e5ff"/><rect x="328" y="486" width="11" height="11" fill="#00e4ff"/><rect x="338" y="486" width="11" height="11" fill="#00e7ff"/><rect x="348" y="486" width="11" height="11" fill="#00e0ff"/><rect x="358" y="486" width="11" height="11" fill="#00d2ff"/><rect x="368" y="486" width="11" height="11" fill="#00cbff"/><rect x="378" y="486" width="11" height="11" fill="#00caff"/><rect x="388" y="486" width="11" height="11" fill="#00ccff"/><rect x="398" y="486" width="11" height="11" fill="#00ccff"/><rect x="408" y="486" width="11" height="11" fill="#00ccff"/><rect x="418" y="486" width="11" height="11" fill="#00ccff"/><rect x="428" y="486" width="11" height="11" fill="#00ccff"/><rect x="438" y="486" width="11" height="11" fill="#00ccff"/><rect x="448" y="486" width="11" height="11" fill="#00ccff"/><rect x="458" y="486" width="11" height="11" fill="#00ccff"/><rect x="468" y="486" width="11" height="11" fill="#00ccff"/><rect x="478" y="486" width="11" height="11" fill="#00ccff"/><rect x="488" y="486" width="11" height="11" fill="#00ccff"/><rect x="498" y="486" width="11" height="11" fill="#00ccff"/><rect x="508" y="486" width="11" height="11" fill="#00ccff"/><rect x="518" y="486" width="11" height="11" fill="#00ccff"/><rect x="528" y="486" width="11" height="11" fill="#00ccff"/><rect x="538" y="486" width="11" height="11" fill="#00ccff"/><rect x="548" y="486" width="11" height="11" fill="#00ccff"/><rect x="558" y="486" width="11" height="11" fill="#00ccff"/><rect x="568" y="486" width="11" height="11" fill="#00ccff"/><rect x="578" y="486" width="11" height="11" fill="#00ccff"/><rect x="588" y="486" width="11" height="11" fill="#00ccff"/><rect x="58" y="496" width="11" height="11" fill="#00e5ff"/><rect x="68" y="496" width="11" height="11" fill="#00e5ff"/><rect x="78" y="496" width="11" height="11" fill="#00e5ff"/><rect x="88" y="496" width="11" height="11" fill="#00e5ff"/><rect x="98" y="496" width="11" height="11" fill="#00e5ff"/><rect x="108" y="496" width="11" height="11" fill="#00e5ff"/><rect x="118" y="496" width="11" height="11" fill="#00e5ff"/><rect x="128" y="496" width="11" height="11" fill="#00e5ff"/><rect x="138" y="496" width="11" height="11" fill="#00e5ff"/><rect x="148" y="496" width="11" height="11" fill="#00e5ff"/><rect x="158" y="496" width="11" height="11" fill="#00e5ff"/><rect x="168" y="496" width="11" height="11" fill="#00e5ff"/><rect x="178" y="496" width="11" height="11" fill="#00e5ff"/><rect x="188" y="496" width="11" height="11" fill="#00e5ff"/><rect x="198" y="496" width="11" height="11" fill="#00e5ff"/><rect x="208" y="496" width="11" height="11" fill="#00e3ff"/><rect x="218" y="496" width="11" height="11" fill="#00e2ff"/><rect x="228" y="496" width="11" height="11" fill="#00e8ff"/><rect x="238" y="496" width="11" height="11" fill="#00f5ff"/><rect x="248" y="496" width="11" height="11" fill="#00ffff"/><rect x="258" y="496" width="11" height="11" fill="#01fffe"/><rect x="268" y="496" width="11" height="11" fill="#00feff"/><rect x="278" y="496" width="11" height="11" fill="#00ffff"/><rect x="288" y="496" width="11" height="11" fill="#02fffd"/><rect x="298" y="496" width="11" height="11" fill="#00fcff"/><rect x="308" y="496" width="11" height="11" fill="#00efff"/><rect x="318" y="496" width="11" height="11" fill="#00e5ff"/><rect x="328" y="496" width="11" height="11" fill="#00e4ff"/><rect x="338" y="496" width="11" height="11" fill="#00e7ff"/><rect x="348" y="496" width="11" height="11" fill="#00e0ff"/><rect x="358" y="496" width="11" height="11" fill="#00d2ff"/><rect x="368" y="496" width="11" height="11" fill="#00caff"/><rect x="378" y="496" width="11" height="11" fill="#00caff"/><rect x="388" y="496" width="11" height="11" fill="#00ccff"/><rect x="398" y="496" width="11" height="11" fill="#00ccff"/><rect x="408" y="496" width="11" height="11" fill="#00ccff"/><rect x="418" y="496" width="11" height="11" fill="#00ccff"/><rect x="428" y="496" width="11" height="11" fill="#00ccff"/><rect x="438" y="496" width="11" height="11" fill="#00ccff"/><rect x="448" y="496" width="11" height="11" fill="#00ccff"/><rect x="458" y="496" width="11" height="11" fill="#00ccff"/><rect x="468" y="496" width="11" height="11" fill="#00ccff"/><rect x="478" y="496" width="11" height="11" fill="#00ccff"/><rect x="488" y="496" width="11" height="11" fill="#00ccff"/><rect x="498" y="496" width="11" height="11" fill="#00ccff"/><rect x="508" y="496" width="11" height="11" fill="#00ccff"/><rect x="518" y="496" width="11" height="11" fill="#00ccff"/><rect x="528" y="496" width="11" height="11" fill="#00ccff"/><rect x="538" y="496" width="11" height="11" fill="#00ccff"/><rect x="548" y="496" width="11" height="11" fill="#00ccff"/><rect x="558" y="496" width="11" height="11" fill="#00ccff"/><rect x="568" y="496" width="11" height="11" fill="#00ccff"/><rect x="578" y="496" width="11" height="11" fill="#00ccff"/><rect x="588" y="496" width="11" height="11" fill="#00ccff"/></g></g></g>
<g stroke="#262626" stroke-opacity="0.15" stroke-width="1"><line x1="99.5" y1="40.5" x2="99.5" y2="480.5"/><line x1="146.5" y1="40.5" x2="146.5" y2="480.5"/><line x1="193.5" y1="40.5" x2="193.5" y2="480.5"/><line x1="240.5" y1="40.5" x2="240.5" y2="480.5"/><line x1="287.5" y1="40.5" x2="287.5" y2="480.5"/><line x1="334.5" y1="40.5" x2="334.5" y2="480.5"/><line x1="381.5" y1="40.5" x2="381.5" y2="480.5"/><line x1="428.5" y1="40.5" x2="428.5" y2="480.5"/><line x1="475.5" y1="40.5" x2="475.5" y2="480.5"/><line x1="522.5" y1="40.5" x2="522.5" y2="480.5"/><line x1="569.5" y1="40.5" x2="569.5" y2="480.5"/><line x1="81.5" y1="57.5" x2="571.5" y2="57.5"/><line x1="81.5" y1="101.5" x2="571.5" y2="101.5"/><line x1="81.5" y1="145.5" x2="571.5" y2="145.5"/><line x1="81.5" y1="189.5" x2="571.5" y2="189.5"/><line x1="81.5" y1="233.5" x2="571.5" y2="233.5"/><line x1="81.5" y1="278.5" x2="571.5" y2="278.5"/><line x1="81.5" y1="322.5" x2="571.5" y2="322.5"/><line x1="81.5" y1="366.5" x2="571.5" y2="366.5"/><line x1="81.5" y1="410.5" x2="571.5" y2="410.5"/><line x1="81.5" y1="454.5" x2="571.5" y2="454.5"/></g>
<g stroke="#262626" stroke-width="1"><line x1="99.5" y1="480.5" x2="99.5" y2="476.5"/><line x1="99.5" y1="40.5" x2="99.5" y2="44.5"/><line x1="146.5" y1="480.5" x2="146.5" y2="476.5"/><line x1="146.5" y1="40.5" x2="146.5" y2="44.5"/><line x1="193.5" y1="480.5" x2="193.5" y2="476.5"/><line x1="193.5" y1="40.5" x2="193.5" y2="44.5"/><line x1="240.5" y1="480.5" x2="240.5" y2="476.5"/><line x1="240.5" y1="40.5" x2="240.5" y2="44.5"/><line x1="287.5" y1="480.5" x2="287.5" y2="476.5"/><line x1="287.5" y1="40.5" x2="287.5" y2="44.5"/><line x1="334.5" y1="480.5" x2="334.5" y2="476.5"/><line x1="334.5" y1="40.5" x2="334.5" y2="44.5"/><line x1="381.5" y1="480.5" x2="381.5" y2="476.5"/><line x1="381.5" y1="40.5" x2="381.5" y2="44.5"/><line x1="428.5" y1="480.5" x2="428.5" y2="476.5"/><line x1="428.5" y1="40.5" x2="428.5" y2="44.5"/><line x1="475.5" y1="480.5" x2="475.5" y2="476.5"/><line x1="475.5" y1="40.5" x2="475.5" y2="44.5"/><line x1="522.5" y1="480.5" x2="522.5" y2="476.5"/><line x1="522.5" y1="40.5" x2="522.5" y2="44.5"/><line x1="569.5" y1="480.5" x2="569.5" y2="476.5"/><line x1="569.5" y1="40.5" x2="569.5" y2="44.5"/><line x1="81.5" y1="57.5" x2="85.5" y2="57.5"/><line x1="571.5" y1="57.5" x2="567.5" y2="57.5"/><line x1="81.5" y1="101.5" x2="85.5" y2="101.5"/><line x1="571.5" y1="101.5" x2="567.5" y2="101.5"/><line x1="81.5" y1="145.5" x2="85.5" y2="145.5"/><line x1="571.5" y1="145.5" x2="567.5" y2="145.5"/><line x1="81.5" y1="189.5" x2="85.5" y2="189.5"/><line x1="571.5" y1="189.5" x2="567.5" y2="189.5"/><line x1="81.5" y1="233.5" x2="85.5" y2="233.5"/><line x1="571.5" y1="233.5" x2="567.5" y2="233.5"/><line x1="81.5" y1="278.5" x2="85.5" y2="278.5"/><line x1="571.5" y1="278.5" x2="567.5" y2="278.5"/><line x1="81.5" y1="322.5" x2="85.5" y2="322.5"/><line x1="571.5" y1="322.5" x2="567.5" y2="322.5"/><line x1="81.5" y1="366.5" x2="85.5" y2="366.5"/><line x1="571.5" y1="366.5" x2="567.5" y2="366.5"/><line x1="81.5" y1="410.5" x2="85.5" y2="410.5"/><line x1="571.5" y1="410.5" x2="567.5" y2="410.5"/><line x1="81.5" y1="454.5" x2="85.5" y2="454.5"/><line x1="571.5" y1="454.5" x2="567.5" y2="454.5"/></g>
<rect x="81.5" y="40.5" width="490" height="440" fill="none" stroke="#262626" stroke-width="1"/>
<g shape-rendering="crispEdges"><rect x="598" y="41.00" width="28" height="7.38" fill="#000087"/><rect x="598" y="47.88" width="28" height="7.38" fill="#000097"/><rect x="598" y="54.75" width="28" height="7.38" fill="#0000a7"/><rect x="598" y="61.62" width="28" height="7.38" fill="#0000b7"/><rect x="598" y="68.50" width="28" height="7.38" fill="#0000c7"/><rect x="598" y="75.38" width="28" height="7.38" fill="#0000d7"/><rect x="598" y="82.25" width="28" height="7.38" fill="#0000e7"/><rect x="598" y="89.12" width="28" height="7.38" fill="#0000f7"/><rect x="598" y="96.00" width="28" height="7.38" fill="#0008ff"/><rect x="598" y="102.88" width="28" height="7.38" fill="#0018ff"/><rect x="598" y="109.75" width="28" height="7.38" fill="#0028ff"/><rect x="598" y="116.62" width="28" height="7.38" fill="#0038ff"/><rect x="598" y="123.50" width="28" height="7.38" fill="#0048ff"/><rect x="598" y="130.38" width="28" height="7.38" fill="#0058ff"/><rect x="598" y="137.25" width="28" height="7.38" fill="#0068ff"/><rect x="598" y="144.12" width="28" height="7.38" fill="#0078ff"/><rect x="598" y="151.00" width="28" height="7.38" fill="#0087ff"/><rect x="598" y="157.88" width="28" height="7.38" fill="#0097ff"/><rect x="598" y="164.75" width="28" height="7.38" fill="#00a7ff"/><rect x="598" y="171.62" width="28" height="7.38" fill="#00b7ff"/><rect x="598" y="178.50" width="28" height="7.38" fill="#00c7ff"/><rect x="598" y="185.38" width="28" height="7.38" fill="#00d7ff"/><rect x="598" y="192.25" width="28" height="7.38" fill="#00e7ff"/><rect x="598" y="199.12" width="28" height="7.38" fill="#00f7ff"/><rect x="598" y="206.00" width="28" height="7.38" fill="#08fff7"/><rect x="598" y="212.88" width="28" height="7.38" fill="#18ffe7"/><rect x="598" y="219.75" width="28" height="7.38" fill="#28ffd7"/><rect x="598" y="226.62" width="28" height="7.38" fill="#38ffc7"/><rect x="598" y="233.50" width="28" height="7.38" fill="#48ffb7"/><rect x="598" y="240.38" width="28" height="7.38" fill="#58ffa7"/><rect x="598" y="247.25" width="28" height="7.38" fill="#68ff97"/><rect x="598" y="254.12" width="28" height="7.38" fill="#78ff87"/><rect x="598" y="261.00" width="28" height="7.38" fill="#87ff78"/><rect x="598" y="267.88" width="28" height="7.38" fill="#97ff68"/><rect x="598" y="274.75" width="28" height="7.38" fill="#a7ff58"/><rect x="598" y="281.62" width="28" height="7.38" fill="#b7ff48"/><rect x="598" y="288.50" width="28" height="7.38" fill="#c7ff38"/><rect x="598" y="295.38" width="28" height="7.38" fill="#d7ff28"/><rect x="598" y="302.25" width="28" height="7.38" fill="#e7ff18"/><rect x="598" y="309.12" width="28" height="7.38" fill="#f7ff08"/><rect x="598" y="316.00" width="28" height="7.38" fill="#fff700"/><rect x="598" y="322.88" width="28" height="7.38" fill="#ffe700"/><rect x="598" y="329.75" width="28" height="7.38" fill="#ffd700"/><rect x="598" y="336.62" width="28" height="7.38" fill="#ffc700"/><rect x="598" y="343.50" width="28" height="7.38" fill="#ffb700"/><rect x="598" y="350.38" width="28" height="7.38" fill="#ffa700"/><rect x="598" y="357.25" width="28" height="7.38" fill="#ff9700"/><rect x="598" y="364.12" width="28" height="7.38" fill="#ff8700"/><rect x="598" y="371.00" width="28" height="7.38" fill="#ff7800"/><rect x="598" y="377.88" width="28" height="7.38" fill="#ff6800"/><rect x="598" y="384.75" width="28" height="7.38" fill="#ff5800"/><rect x="598" y="391.62" width="28" height="7.38" fill="#ff4800"/><rect x="598" y="398.50" width="28" height="7.38" fill="#ff3800"/><rect x="598" y="405.38" width="28" height="7.38" fill="#ff2800"/><rect x="598" y="412.25" width="28" height="7.38" fill="#ff1800"/><rect x="598" y="419.12" width="28" height="7.38" fill="#ff0800"/><rect x="598" y="426.00" width="28" height="7.38" fill="#f70000"/><rect x="598" y="432.88" width="28" height="7.38" fill="#e70000"/><rect x="598" y="439.75" width="28" height="7.38" fill="#d70000"/><rect x="598" y="446.62" width="28" height="7.38" fill="#c70000"/><rect x="598" y="453.50" width="28" height="7.38" fill="#b70000"/><rect x="598" y="460.38" width="28" height="7.38" fill="#a70000"/><rect x="598" y="467.25" width="28" height="7.38" fill="#970000"/><rect x="598" y="474.12" width="28" height="7.38" fill="#870000"/></g>
<g stroke="#262626" stroke-width="1"><line x1="622" y1="408.5" x2="626" y2="408.5"/><line x1="622" y1="334.5" x2="626" y2="334.5"/><line x1="622" y1="261.5" x2="626" y2="261.5"/><line x1="622" y1="188.5" x2="626" y2="188.5"/><line x1="622" y1="114.5" x2="626" y2="114.5"/></g>
<rect x="598.5" y="41.5" width="27" height="439" fill="none" stroke="#262626" stroke-width="1"/>
<g id="logo" clip-path="url(#ax)">
<circle cx="521.2" cy="457.4" r="43.4" fill="#fcf5dc" stroke="#cfc4a8" stroke-width="1"/>
<g stroke="#8a8578" stroke-width="0.8" fill="none">
<line x1="545" y1="440" x2="543" y2="464"/><line x1="549" y1="440" x2="549" y2="465"/><line x1="554" y1="440" x2="556" y2="465"/><line x1="558" y1="440" x2="560" y2="466"/>
<line x1="544" y1="446" x2="558" y2="456"/><line x1="557" y1="446" x2="545" y2="458"/><line x1="543" y1="458" x2="560" y2="464"/>
</g>
<circle cx="551.7" cy="431.5" r="8.3" fill="#000"/>
<rect x="546" y="437" width="11" height="3" fill="#000"/>
<path d="M470.7 462.7 L497.7 458.3 L498 451 L510 450 L520 452 L521 455 L530 456 L537 458.5 L541 457.5 L570.6 470.7 L570.6 480.5 L470.7 480.5 Z" fill="#000"/>
<ellipse cx="495.5" cy="444.2" rx="10.5" ry="4.6" transform="rotate(-36 495.5 444.2)" fill="#000"/><line x1="491" y1="438.5" x2="495" y2="440" stroke="#555" stroke-width="0.7"/>
<rect x="498.4" y="446.6" width="6.6" height="7" fill="#000"/>
<ellipse cx="515.2" cy="441" rx="9.5" ry="5" transform="rotate(12 515.2 441)" fill="#000"/>
<path d="M513 434 L514.5 431.5 L516 434 Z" fill="#000"/>
<rect x="511" y="445" width="6" height="8" fill="#000"/>
<text x="522.5" y="477.3" text-anchor="middle" fill="#eeeeee" font-family="Liberation Sans" font-size="11.5" font-weight="bold" letter-spacing="8.0" style="font-weight:600">CIMSS</text>
</g>

</svg>
<div class="t" style="left:0;top:15px;width:654px;text-align:center;font-size:18.4px;font-weight:bold;color:#000">Fernanda: 18-Aug-2023 15:00:00</div>
<div class="t" style="left:92.5px;top:53px;font-size:17px;font-weight:bold;color:#000">Vmax: 26 kts</div>
<div class="t" style="left:364px;width:200px;text-align:right;top:53px;font-size:17px;font-weight:bold;color:#000">00:54 away</div>
<div class="xt" style="left:69.5px">-142</div><div class="xt" style="left:116.5px">-141</div><div class="xt" style="left:163.5px">-140</div><div class="xt" style="left:210.5px">-139</div><div class="xt" style="left:257.5px">-138</div><div class="xt" style="left:304.5px">-137</div><div class="xt" style="left:351.5px">-136</div><div class="xt" style="left:398.5px">-135</div><div class="xt" style="left:445.5px">-134</div><div class="xt" style="left:492.5px">-133</div><div class="xt" style="left:539.5px">-132</div>
<div class="yt" style="top:47.5px">21</div><div class="yt" style="top:91.6px">20</div><div class="yt" style="top:135.7px">19</div><div class="yt" style="top:179.8px">18</div><div class="yt" style="top:223.9px">17</div><div class="yt" style="top:268.1px">16</div><div class="yt" style="top:312.2px">15</div><div class="yt" style="top:356.3px">14</div><div class="yt" style="top:400.4px">13</div><div class="yt" style="top:444.5px">12</div>
<div class="ct" style="top:31.5px">280</div><div class="ct" style="top:104.8px">260</div><div class="ct" style="top:178.2px">240</div><div class="ct" style="top:251.5px">220</div><div class="ct" style="top:324.8px">200</div><div class="ct" style="top:398.2px">180</div><div class="ct" style="top:471.5px">160</div>
<div class="t" style="left:0;top:511px;width:654px;text-align:center;font-size:19.7px">longitude</div>
<div class="t" style="left:-61px;top:250px;width:200px;text-align:center;font-size:19.9px;transform:rotate(-90deg)">latitude</div>
<div class="t" style="left:521px;top:251px;width:300px;text-align:center;font-size:13.6px;transform:rotate(-90deg)">Brightness Temp - Horizontal Polarization</div>
</body></html>
